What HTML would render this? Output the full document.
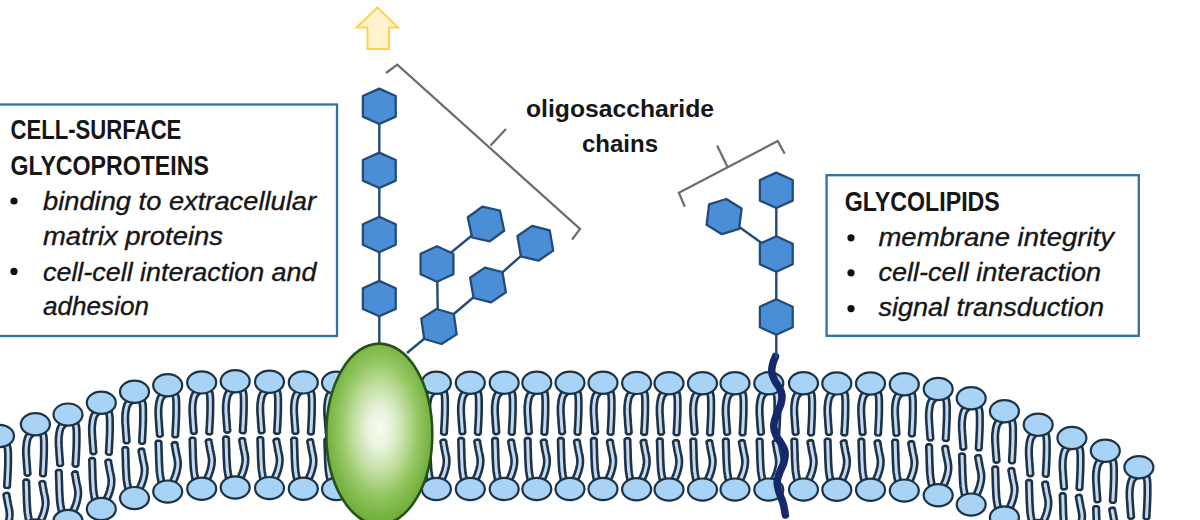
<!DOCTYPE html>
<html lang="en"><head><meta charset="utf-8"><title>Glycoproteins and glycolipids</title>
<style>html,body{margin:0;padding:0;background:#fff}body{width:1200px;height:520px;overflow:hidden}svg{display:block}text{font-family:"Liberation Sans",sans-serif;fill:#161616}.b{font-weight:bold}.i{font-style:italic;stroke:#161616;stroke-width:0.35px}</style></head><body>
<svg width="1200" height="520" viewBox="0 0 1200 520">
<defs><radialGradient id="pg" cx="50%" cy="47%" r="52%" fx="50%" fy="47%"><stop offset="0" stop-color="#f6fbf1"/><stop offset="0.2" stop-color="#e9f4de"/><stop offset="0.45" stop-color="#c5e0a6"/><stop offset="0.7" stop-color="#96c764"/><stop offset="0.9" stop-color="#7ab646"/><stop offset="1" stop-color="#6fae3b"/></radialGradient></defs>
<rect width="1200" height="520" fill="#fff"/>
<g id="bilayer">
<path d="M-4.9 442.0L-5.4 442.4L-6.2 443.1L-7.3 444.0L-8.4 445.2L-9.6 446.7L-10.5 448.4L-11.1 450.3L-11.6 452.3L-12.0 454.4L-12.2 456.5L-12.5 458.7L-12.6 460.9L-12.6 463.1L-12.6 465.4L-12.5 467.6L-12.3 469.9L-12.1 472.1L-12.0 474.2L-11.9 476.4L-11.7 478.7L-11.5 481.0L-11.3 483.1L-11.2 484.9L-11.1 486.2L-9.7 487.4L-6.7 487.2L-5.5 485.8L-5.6 484.5L-5.8 482.7L-5.9 480.6L-6.1 478.3L-6.3 476.0L-6.4 473.8L-6.6 471.7L-6.7 469.5L-6.9 467.3L-7.0 465.1L-7.0 463.1L-7.0 461.1L-6.9 459.2L-6.7 457.1L-6.4 455.2L-6.1 453.4L-5.7 451.8L-5.3 450.6L-4.8 449.7L-4.2 448.9L-3.4 448.1L-2.6 447.3L-1.7 446.6L-1.1 446.0L-1.0 444.2L-3.1 442.0ZM3.8 444.8L4.0 445.4L4.2 446.2L4.5 447.0L4.7 448.0L5.0 449.0L5.1 450.3L5.2 451.8L5.3 453.6L5.3 455.7L5.3 457.8L5.3 459.9L5.3 462.0L5.3 463.9L5.2 465.9L5.2 467.9L5.1 469.8L5.0 471.8L4.9 473.9L4.8 476.1L4.7 478.5L4.5 480.9L4.4 483.1L4.3 485.1L4.2 486.4L5.4 487.8L8.5 488.0L9.8 486.8L9.9 485.4L10.0 483.5L10.1 481.2L10.3 478.8L10.4 476.4L10.5 474.1L10.6 472.1L10.7 470.1L10.8 468.1L10.8 466.1L10.9 464.0L10.9 462.0L10.9 459.9L10.9 457.8L10.9 455.6L10.9 453.5L10.8 451.5L10.7 449.7L10.5 448.1L10.2 446.7L9.9 445.5L9.6 444.5L9.3 443.8L9.2 443.2L7.6 442.3L4.7 443.2ZM-12.5 492.8L-12.5 493.8L-12.4 495.2L-12.4 496.8L-12.3 498.7L-12.3 500.5L-12.2 502.4L-12.1 504.3L-12.1 506.3L-12.0 508.4L-12.0 510.5L-11.9 512.5L-11.8 514.4L-11.7 516.2L-11.6 517.9L-11.5 519.6L-11.4 521.3L-11.3 522.9L-11.1 524.7L-10.8 526.5L-10.5 528.5L-10.1 530.5L-9.8 532.2L-9.5 533.7L-9.2 534.8L-7.8 535.9L-4.7 535.3L-3.8 533.8L-4.0 532.7L-4.3 531.2L-4.6 529.4L-5.0 527.5L-5.3 525.6L-5.5 523.9L-5.7 522.4L-5.8 520.8L-5.9 519.3L-6.0 517.6L-6.1 515.9L-6.2 514.2L-6.3 512.3L-6.4 510.3L-6.4 508.2L-6.5 506.1L-6.5 504.1L-6.6 502.2L-6.7 500.4L-6.7 498.5L-6.8 496.7L-6.8 495.0L-6.9 493.6L-6.9 492.6L-8.2 491.4L-11.3 491.4ZM3.5 494.8L3.7 495.6L3.9 496.7L4.1 498.0L4.4 499.5L4.7 501.1L4.9 502.8L5.3 504.6L5.7 506.6L6.2 508.7L6.5 510.7L6.8 512.6L6.9 514.3L6.8 516.0L6.6 517.7L6.3 519.4L5.9 521.2L5.5 522.9L5.0 524.5L4.5 526.0L3.8 527.7L3.1 529.3L2.4 530.8L1.7 532.1L1.3 533.1L1.9 534.8L4.6 536.1L6.3 535.5L6.8 534.6L7.4 533.3L8.2 531.7L9.0 529.9L9.7 528.0L10.4 526.1L10.9 524.3L11.4 522.5L11.8 520.5L12.2 518.5L12.4 516.4L12.5 514.3L12.4 512.0L12.1 509.8L11.7 507.6L11.2 505.5L10.8 503.5L10.5 501.8L10.2 500.2L9.9 498.6L9.6 497.1L9.4 495.7L9.2 494.6L9.1 493.8L7.6 492.8L4.6 493.3Z" fill="#c2d9f0" stroke="#1c3347" stroke-width="2.6" stroke-linejoin="round"/><ellipse cx="-0.5" cy="436.0" rx="14.5" ry="11.1" fill="#a8d3f5" stroke="#1c3347" stroke-width="2.2"/><ellipse cx="-0.5" cy="542.3" rx="14.5" ry="11.1" fill="#a8d3f5" stroke="#1c3347" stroke-width="2.2"/>
<path d="M31.0 430.2L30.5 430.6L29.7 431.3L28.6 432.2L27.5 433.4L26.3 434.9L25.4 436.6L24.8 438.5L24.3 440.5L23.9 442.6L23.7 444.7L23.4 446.9L23.3 449.1L23.3 451.3L23.3 453.6L23.4 455.8L23.6 458.1L23.8 460.3L23.9 462.4L24.0 464.6L24.2 466.9L24.4 469.2L24.6 471.3L24.7 473.1L24.8 474.4L26.2 475.6L29.2 475.4L30.4 474.0L30.3 472.7L30.1 470.9L30.0 468.8L29.8 466.5L29.6 464.2L29.5 462.0L29.3 459.9L29.2 457.7L29.0 455.5L28.9 453.3L28.9 451.3L28.9 449.3L29.0 447.4L29.2 445.3L29.5 443.4L29.8 441.6L30.2 440.0L30.6 438.8L31.1 437.9L31.7 437.1L32.5 436.3L33.3 435.5L34.2 434.8L34.8 434.2L34.9 432.4L32.8 430.2ZM39.7 433.0L39.9 433.6L40.1 434.4L40.4 435.2L40.6 436.2L40.9 437.2L41.0 438.5L41.1 440.0L41.2 441.8L41.2 443.9L41.2 446.0L41.2 448.1L41.2 450.2L41.2 452.1L41.1 454.1L41.1 456.1L41.0 458.0L40.9 460.0L40.8 462.1L40.7 464.3L40.6 466.7L40.4 469.1L40.3 471.3L40.2 473.3L40.1 474.6L41.3 476.0L44.4 476.2L45.7 475.0L45.8 473.6L45.9 471.7L46.0 469.4L46.2 467.0L46.3 464.6L46.4 462.3L46.5 460.3L46.6 458.3L46.7 456.3L46.7 454.3L46.8 452.2L46.8 450.2L46.8 448.1L46.8 446.0L46.8 443.8L46.8 441.7L46.7 439.7L46.6 437.9L46.4 436.3L46.1 434.9L45.8 433.7L45.5 432.7L45.2 432.0L45.1 431.4L43.5 430.5L40.6 431.4ZM23.4 481.0L23.4 482.0L23.5 483.4L23.5 485.0L23.6 486.9L23.6 488.7L23.7 490.6L23.8 492.5L23.8 494.5L23.9 496.6L23.9 498.7L24.0 500.7L24.1 502.6L24.2 504.4L24.3 506.1L24.4 507.8L24.5 509.5L24.6 511.1L24.8 512.9L25.1 514.7L25.4 516.7L25.8 518.7L26.1 520.4L26.4 521.9L26.7 523.0L28.1 524.1L31.2 523.5L32.1 522.0L31.9 520.9L31.6 519.4L31.3 517.6L30.9 515.7L30.6 513.8L30.4 512.1L30.2 510.6L30.1 509.0L30.0 507.5L29.9 505.8L29.8 504.1L29.7 502.4L29.6 500.5L29.5 498.5L29.5 496.4L29.4 494.3L29.4 492.3L29.3 490.4L29.2 488.6L29.2 486.7L29.1 484.9L29.1 483.2L29.0 481.8L29.0 480.8L27.7 479.6L24.6 479.6ZM39.4 483.0L39.6 483.8L39.8 484.9L40.0 486.2L40.3 487.7L40.6 489.3L40.8 491.0L41.2 492.8L41.6 494.8L42.1 496.9L42.4 498.9L42.7 500.8L42.8 502.5L42.7 504.2L42.5 505.9L42.2 507.6L41.8 509.4L41.4 511.1L40.9 512.7L40.4 514.2L39.7 515.9L39.0 517.5L38.3 519.0L37.6 520.3L37.2 521.3L37.8 523.0L40.5 524.3L42.2 523.7L42.7 522.8L43.3 521.5L44.1 519.9L44.9 518.1L45.6 516.2L46.3 514.3L46.8 512.5L47.3 510.7L47.7 508.7L48.1 506.7L48.3 504.6L48.4 502.5L48.3 500.2L48.0 498.0L47.6 495.8L47.1 493.7L46.7 491.7L46.4 490.0L46.1 488.4L45.8 486.8L45.5 485.3L45.3 483.9L45.1 482.8L45.0 482.0L43.5 481.0L40.5 481.5Z" fill="#c2d9f0" stroke="#1c3347" stroke-width="2.6" stroke-linejoin="round"/><ellipse cx="35.4" cy="424.2" rx="14.5" ry="11.1" fill="#a8d3f5" stroke="#1c3347" stroke-width="2.2"/><ellipse cx="35.4" cy="530.5" rx="14.5" ry="11.1" fill="#a8d3f5" stroke="#1c3347" stroke-width="2.2"/>
<path d="M63.6 420.6L63.1 421.0L62.3 421.7L61.2 422.6L60.1 423.8L58.9 425.3L58.0 427.0L57.4 428.9L56.9 430.9L56.5 433.0L56.3 435.1L56.0 437.3L55.9 439.5L55.9 441.7L55.9 444.0L56.0 446.2L56.2 448.5L56.4 450.7L56.5 452.8L56.6 455.0L56.8 457.3L57.0 459.6L57.2 461.7L57.3 463.5L57.4 464.8L58.8 466.0L61.8 465.8L63.0 464.4L62.9 463.1L62.7 461.3L62.6 459.2L62.4 456.9L62.2 454.6L62.1 452.4L61.9 450.3L61.8 448.1L61.6 445.9L61.5 443.7L61.5 441.7L61.5 439.7L61.6 437.8L61.8 435.7L62.1 433.8L62.4 432.0L62.8 430.4L63.2 429.2L63.7 428.3L64.3 427.5L65.1 426.7L65.9 425.9L66.8 425.2L67.4 424.6L67.5 422.8L65.4 420.6ZM72.3 423.4L72.5 424.0L72.7 424.8L73.0 425.6L73.2 426.6L73.5 427.6L73.6 428.9L73.7 430.4L73.8 432.2L73.8 434.3L73.8 436.4L73.8 438.5L73.8 440.6L73.8 442.5L73.7 444.5L73.7 446.5L73.6 448.4L73.5 450.4L73.4 452.5L73.3 454.7L73.2 457.1L73.0 459.5L72.9 461.7L72.8 463.7L72.7 465.0L73.9 466.4L77.0 466.6L78.3 465.4L78.4 464.0L78.5 462.1L78.6 459.8L78.8 457.4L78.9 455.0L79.0 452.7L79.1 450.7L79.2 448.7L79.3 446.7L79.3 444.7L79.4 442.6L79.4 440.6L79.4 438.5L79.4 436.4L79.4 434.2L79.4 432.1L79.3 430.1L79.2 428.3L79.0 426.7L78.7 425.3L78.4 424.1L78.1 423.1L77.8 422.4L77.7 421.8L76.1 420.9L73.2 421.8ZM56.0 471.4L56.0 472.4L56.1 473.8L56.1 475.4L56.2 477.3L56.2 479.1L56.3 481.0L56.4 482.9L56.4 484.9L56.5 487.0L56.5 489.1L56.6 491.1L56.7 493.0L56.8 494.8L56.9 496.5L57.0 498.2L57.1 499.9L57.2 501.5L57.4 503.3L57.7 505.1L58.0 507.1L58.4 509.1L58.7 510.8L59.0 512.3L59.3 513.4L60.7 514.5L63.8 513.9L64.7 512.4L64.5 511.3L64.2 509.8L63.9 508.0L63.5 506.1L63.2 504.2L63.0 502.5L62.8 501.0L62.7 499.4L62.6 497.9L62.5 496.2L62.4 494.5L62.3 492.8L62.2 490.9L62.1 488.9L62.1 486.8L62.0 484.7L62.0 482.7L61.9 480.8L61.8 479.0L61.8 477.1L61.7 475.3L61.7 473.6L61.6 472.2L61.6 471.2L60.3 470.0L57.2 470.0ZM72.0 473.4L72.2 474.2L72.4 475.3L72.6 476.6L72.9 478.1L73.2 479.7L73.4 481.4L73.8 483.2L74.2 485.2L74.7 487.3L75.0 489.3L75.3 491.2L75.4 492.9L75.3 494.6L75.1 496.3L74.8 498.0L74.4 499.8L74.0 501.5L73.5 503.1L73.0 504.6L72.3 506.3L71.6 507.9L70.9 509.4L70.2 510.7L69.8 511.7L70.4 513.4L73.1 514.7L74.8 514.1L75.3 513.2L75.9 511.9L76.7 510.3L77.5 508.5L78.2 506.6L78.9 504.7L79.4 502.9L79.9 501.1L80.3 499.1L80.7 497.1L80.9 495.0L81.0 492.9L80.9 490.6L80.6 488.4L80.2 486.2L79.7 484.1L79.3 482.1L79.0 480.4L78.7 478.8L78.4 477.2L78.1 475.7L77.9 474.3L77.7 473.2L77.6 472.4L76.1 471.4L73.1 471.9Z" fill="#c2d9f0" stroke="#1c3347" stroke-width="2.6" stroke-linejoin="round"/><ellipse cx="68.0" cy="414.6" rx="14.5" ry="11.1" fill="#a8d3f5" stroke="#1c3347" stroke-width="2.2"/><ellipse cx="68.0" cy="520.9" rx="14.5" ry="11.1" fill="#a8d3f5" stroke="#1c3347" stroke-width="2.2"/>
<path d="M96.9 408.7L96.4 409.1L95.6 409.8L94.5 410.7L93.4 411.9L92.2 413.4L91.3 415.1L90.7 417.0L90.2 419.0L89.8 421.1L89.6 423.2L89.3 425.4L89.2 427.6L89.2 429.8L89.2 432.1L89.3 434.3L89.5 436.6L89.7 438.8L89.8 440.9L89.9 443.1L90.1 445.4L90.3 447.7L90.5 449.8L90.6 451.6L90.7 452.9L92.1 454.1L95.1 453.9L96.3 452.5L96.2 451.2L96.0 449.4L95.9 447.3L95.7 445.0L95.5 442.7L95.4 440.5L95.2 438.4L95.1 436.2L94.9 434.0L94.8 431.8L94.8 429.8L94.8 427.8L94.9 425.9L95.1 423.8L95.4 421.9L95.7 420.1L96.1 418.5L96.5 417.3L97.0 416.4L97.6 415.6L98.4 414.8L99.2 414.0L100.1 413.3L100.7 412.7L100.8 410.9L98.7 408.7ZM105.6 411.5L105.8 412.1L106.0 412.9L106.3 413.7L106.5 414.7L106.8 415.7L106.9 417.0L107.0 418.5L107.1 420.3L107.1 422.4L107.1 424.5L107.1 426.6L107.1 428.7L107.1 430.6L107.0 432.6L107.0 434.6L106.9 436.5L106.8 438.5L106.7 440.6L106.6 442.8L106.5 445.2L106.3 447.6L106.2 449.8L106.1 451.8L106.0 453.1L107.2 454.5L110.3 454.7L111.6 453.5L111.7 452.1L111.8 450.2L111.9 447.9L112.1 445.5L112.2 443.1L112.3 440.8L112.4 438.8L112.5 436.8L112.6 434.8L112.6 432.8L112.7 430.7L112.7 428.7L112.7 426.6L112.7 424.5L112.7 422.3L112.7 420.2L112.6 418.2L112.5 416.4L112.3 414.8L112.0 413.4L111.7 412.2L111.4 411.2L111.1 410.5L111.0 409.9L109.4 409.0L106.5 409.9ZM89.3 459.5L89.3 460.5L89.4 461.9L89.4 463.5L89.5 465.4L89.5 467.2L89.6 469.1L89.7 471.0L89.7 473.0L89.8 475.1L89.8 477.2L89.9 479.2L90.0 481.1L90.1 482.9L90.2 484.6L90.3 486.3L90.4 488.0L90.5 489.6L90.7 491.4L91.0 493.2L91.3 495.2L91.7 497.2L92.0 498.9L92.3 500.4L92.6 501.5L94.0 502.6L97.1 502.0L98.0 500.5L97.8 499.4L97.5 497.9L97.2 496.1L96.8 494.2L96.5 492.3L96.3 490.6L96.1 489.1L96.0 487.5L95.9 486.0L95.8 484.3L95.7 482.6L95.6 480.9L95.5 479.0L95.4 477.0L95.4 474.9L95.3 472.8L95.3 470.8L95.2 468.9L95.1 467.1L95.1 465.2L95.0 463.4L95.0 461.7L94.9 460.3L94.9 459.3L93.6 458.1L90.5 458.1ZM105.3 461.5L105.5 462.3L105.7 463.4L105.9 464.7L106.2 466.2L106.5 467.8L106.7 469.5L107.1 471.3L107.5 473.3L108.0 475.4L108.3 477.4L108.6 479.3L108.7 481.0L108.6 482.7L108.4 484.4L108.1 486.1L107.7 487.9L107.3 489.6L106.8 491.2L106.3 492.7L105.6 494.4L104.9 496.0L104.2 497.5L103.5 498.8L103.1 499.8L103.7 501.5L106.4 502.8L108.1 502.2L108.6 501.3L109.2 500.0L110.0 498.4L110.8 496.6L111.5 494.7L112.2 492.8L112.7 491.0L113.2 489.2L113.6 487.2L114.0 485.2L114.2 483.1L114.3 481.0L114.2 478.7L113.9 476.5L113.5 474.3L113.0 472.2L112.6 470.2L112.3 468.5L112.0 466.9L111.7 465.3L111.4 463.8L111.2 462.4L111.0 461.3L110.9 460.5L109.4 459.5L106.4 460.0Z" fill="#c2d9f0" stroke="#1c3347" stroke-width="2.6" stroke-linejoin="round"/><ellipse cx="101.3" cy="402.7" rx="14.5" ry="11.1" fill="#a8d3f5" stroke="#1c3347" stroke-width="2.2"/><ellipse cx="101.3" cy="509.0" rx="14.5" ry="11.1" fill="#a8d3f5" stroke="#1c3347" stroke-width="2.2"/>
<path d="M130.1 397.8L129.6 398.2L128.8 398.9L127.7 399.8L126.6 401.0L125.4 402.5L124.5 404.2L123.9 406.1L123.4 408.1L123.0 410.2L122.8 412.3L122.5 414.5L122.4 416.7L122.4 418.9L122.4 421.2L122.5 423.4L122.7 425.7L122.9 427.9L123.0 430.0L123.1 432.2L123.3 434.5L123.5 436.8L123.7 438.9L123.8 440.7L123.9 442.0L125.3 443.2L128.3 443.0L129.5 441.6L129.4 440.3L129.2 438.5L129.1 436.4L128.9 434.1L128.7 431.8L128.6 429.6L128.4 427.5L128.3 425.3L128.1 423.1L128.0 420.9L128.0 418.9L128.0 416.9L128.1 415.0L128.3 412.9L128.6 411.0L128.9 409.2L129.3 407.6L129.7 406.4L130.2 405.5L130.8 404.7L131.6 403.9L132.4 403.1L133.3 402.4L133.9 401.8L134.0 400.0L131.9 397.8ZM138.8 400.6L139.0 401.2L139.2 402.0L139.5 402.8L139.7 403.8L140.0 404.8L140.1 406.1L140.2 407.6L140.3 409.4L140.3 411.5L140.3 413.6L140.3 415.7L140.3 417.8L140.3 419.7L140.2 421.7L140.2 423.7L140.1 425.6L140.0 427.6L139.9 429.7L139.8 431.9L139.7 434.3L139.5 436.7L139.4 438.9L139.3 440.9L139.2 442.2L140.4 443.6L143.5 443.8L144.8 442.6L144.9 441.2L145.0 439.3L145.1 437.0L145.3 434.6L145.4 432.2L145.5 429.9L145.6 427.9L145.7 425.9L145.8 423.9L145.8 421.9L145.9 419.8L145.9 417.8L145.9 415.7L145.9 413.6L145.9 411.4L145.9 409.3L145.8 407.3L145.7 405.5L145.5 403.9L145.2 402.5L144.9 401.3L144.6 400.3L144.3 399.6L144.2 399.0L142.6 398.1L139.7 399.0ZM122.5 448.6L122.5 449.6L122.6 451.0L122.6 452.6L122.7 454.5L122.7 456.3L122.8 458.2L122.9 460.1L122.9 462.1L123.0 464.2L123.0 466.3L123.1 468.3L123.2 470.2L123.3 472.0L123.4 473.7L123.5 475.4L123.6 477.1L123.7 478.7L123.9 480.5L124.2 482.3L124.5 484.3L124.9 486.3L125.2 488.0L125.5 489.5L125.8 490.6L127.2 491.7L130.3 491.1L131.2 489.6L131.0 488.5L130.7 487.0L130.4 485.2L130.0 483.3L129.7 481.4L129.5 479.7L129.3 478.2L129.2 476.6L129.1 475.1L129.0 473.4L128.9 471.7L128.8 470.0L128.7 468.1L128.6 466.1L128.6 464.0L128.5 461.9L128.5 459.9L128.4 458.0L128.3 456.2L128.3 454.3L128.2 452.5L128.2 450.8L128.1 449.4L128.1 448.4L126.8 447.2L123.7 447.2ZM138.5 450.6L138.7 451.4L138.9 452.5L139.1 453.8L139.4 455.3L139.7 456.9L139.9 458.6L140.3 460.4L140.7 462.4L141.2 464.5L141.5 466.5L141.8 468.4L141.9 470.1L141.8 471.8L141.6 473.5L141.3 475.2L140.9 477.0L140.5 478.7L140.0 480.3L139.5 481.8L138.8 483.5L138.1 485.1L137.4 486.6L136.7 487.9L136.3 488.9L136.9 490.6L139.6 491.9L141.3 491.3L141.8 490.4L142.4 489.1L143.2 487.5L144.0 485.7L144.7 483.8L145.4 481.9L145.9 480.1L146.4 478.3L146.8 476.3L147.2 474.3L147.4 472.2L147.5 470.1L147.4 467.8L147.1 465.6L146.7 463.4L146.2 461.3L145.8 459.3L145.5 457.6L145.2 456.0L144.9 454.4L144.6 452.9L144.4 451.5L144.2 450.4L144.1 449.6L142.6 448.6L139.6 449.1Z" fill="#c2d9f0" stroke="#1c3347" stroke-width="2.6" stroke-linejoin="round"/><ellipse cx="134.5" cy="391.8" rx="14.5" ry="11.1" fill="#a8d3f5" stroke="#1c3347" stroke-width="2.2"/><ellipse cx="134.5" cy="498.1" rx="14.5" ry="11.1" fill="#a8d3f5" stroke="#1c3347" stroke-width="2.2"/>
<path d="M163.3 391.3L162.8 391.7L162.0 392.4L160.9 393.3L159.8 394.5L158.6 396.0L157.7 397.7L157.1 399.6L156.6 401.6L156.2 403.7L156.0 405.8L155.7 408.0L155.6 410.2L155.6 412.4L155.6 414.7L155.7 416.9L155.9 419.2L156.1 421.4L156.2 423.5L156.3 425.7L156.5 428.0L156.7 430.3L156.9 432.4L157.0 434.2L157.1 435.5L158.5 436.7L161.5 436.5L162.7 435.1L162.6 433.8L162.4 432.0L162.3 429.9L162.1 427.6L161.9 425.3L161.8 423.1L161.6 421.0L161.5 418.8L161.3 416.6L161.2 414.4L161.2 412.4L161.2 410.4L161.3 408.5L161.5 406.4L161.8 404.5L162.1 402.7L162.5 401.1L162.9 399.9L163.4 399.0L164.0 398.2L164.8 397.4L165.6 396.6L166.5 395.9L167.1 395.3L167.2 393.5L165.1 391.3ZM172.0 394.1L172.2 394.7L172.4 395.5L172.7 396.3L172.9 397.3L173.2 398.3L173.3 399.6L173.4 401.1L173.5 402.9L173.5 405.0L173.5 407.1L173.5 409.2L173.5 411.3L173.5 413.2L173.4 415.2L173.4 417.2L173.3 419.1L173.2 421.1L173.1 423.2L173.0 425.4L172.9 427.8L172.7 430.2L172.6 432.4L172.5 434.4L172.4 435.7L173.6 437.1L176.7 437.3L178.0 436.1L178.1 434.7L178.2 432.8L178.3 430.5L178.5 428.1L178.6 425.7L178.7 423.4L178.8 421.4L178.9 419.4L179.0 417.4L179.0 415.4L179.1 413.3L179.1 411.3L179.1 409.2L179.1 407.1L179.1 404.9L179.1 402.8L179.0 400.8L178.9 399.0L178.7 397.4L178.4 396.0L178.1 394.8L177.8 393.8L177.5 393.1L177.4 392.5L175.8 391.6L172.9 392.5ZM155.7 442.1L155.7 443.1L155.8 444.5L155.8 446.1L155.9 448.0L155.9 449.8L156.0 451.7L156.1 453.6L156.1 455.6L156.2 457.7L156.2 459.8L156.3 461.8L156.4 463.7L156.5 465.5L156.6 467.2L156.7 468.9L156.8 470.6L156.9 472.2L157.1 474.0L157.4 475.8L157.7 477.8L158.1 479.8L158.4 481.5L158.7 483.0L159.0 484.1L160.4 485.2L163.5 484.6L164.4 483.1L164.2 482.0L163.9 480.5L163.6 478.7L163.2 476.8L162.9 474.9L162.7 473.2L162.5 471.7L162.4 470.1L162.3 468.6L162.2 466.9L162.1 465.2L162.0 463.5L161.9 461.6L161.8 459.6L161.8 457.5L161.7 455.4L161.7 453.4L161.6 451.5L161.5 449.7L161.5 447.8L161.4 446.0L161.4 444.3L161.3 442.9L161.3 441.9L160.0 440.7L156.9 440.7ZM171.7 444.1L171.9 444.9L172.1 446.0L172.3 447.3L172.6 448.8L172.9 450.4L173.1 452.1L173.5 453.9L173.9 455.9L174.4 458.0L174.7 460.0L175.0 461.9L175.1 463.6L175.0 465.3L174.8 467.0L174.5 468.7L174.1 470.5L173.7 472.2L173.2 473.8L172.7 475.3L172.0 477.0L171.3 478.6L170.6 480.1L169.9 481.4L169.5 482.4L170.1 484.1L172.8 485.4L174.5 484.8L175.0 483.9L175.6 482.6L176.4 481.0L177.2 479.2L177.9 477.3L178.6 475.4L179.1 473.6L179.6 471.8L180.0 469.8L180.4 467.8L180.6 465.7L180.7 463.6L180.6 461.3L180.3 459.1L179.9 456.9L179.4 454.8L179.0 452.8L178.7 451.1L178.4 449.5L178.1 447.9L177.8 446.4L177.6 445.0L177.4 443.9L177.3 443.1L175.8 442.1L172.8 442.6Z" fill="#c2d9f0" stroke="#1c3347" stroke-width="2.6" stroke-linejoin="round"/><ellipse cx="167.7" cy="385.3" rx="14.5" ry="11.1" fill="#a8d3f5" stroke="#1c3347" stroke-width="2.2"/><ellipse cx="167.7" cy="491.6" rx="14.5" ry="11.1" fill="#a8d3f5" stroke="#1c3347" stroke-width="2.2"/>
<path d="M197.3 388.4L196.8 388.8L196.0 389.5L194.9 390.4L193.8 391.6L192.6 393.1L191.7 394.8L191.1 396.7L190.6 398.7L190.2 400.8L190.0 402.9L189.7 405.1L189.6 407.3L189.6 409.5L189.6 411.8L189.7 414.0L189.9 416.3L190.1 418.5L190.2 420.6L190.3 422.8L190.5 425.1L190.7 427.4L190.9 429.5L191.0 431.3L191.1 432.6L192.5 433.8L195.5 433.6L196.7 432.2L196.6 430.9L196.4 429.1L196.3 427.0L196.1 424.7L195.9 422.4L195.8 420.2L195.6 418.1L195.5 415.9L195.3 413.7L195.2 411.5L195.2 409.5L195.2 407.5L195.3 405.6L195.5 403.5L195.8 401.6L196.1 399.8L196.5 398.2L196.9 397.0L197.4 396.1L198.0 395.3L198.8 394.5L199.6 393.7L200.5 393.0L201.1 392.4L201.2 390.6L199.1 388.4ZM206.0 391.2L206.2 391.8L206.4 392.6L206.7 393.4L206.9 394.4L207.2 395.4L207.3 396.7L207.4 398.2L207.5 400.0L207.5 402.1L207.5 404.2L207.5 406.3L207.5 408.4L207.5 410.3L207.4 412.3L207.4 414.3L207.3 416.2L207.2 418.2L207.1 420.3L207.0 422.5L206.9 424.9L206.7 427.3L206.6 429.5L206.5 431.5L206.4 432.8L207.6 434.2L210.7 434.4L212.0 433.2L212.1 431.8L212.2 429.9L212.3 427.6L212.5 425.2L212.6 422.8L212.7 420.5L212.8 418.5L212.9 416.5L213.0 414.5L213.0 412.5L213.1 410.4L213.1 408.4L213.1 406.3L213.1 404.2L213.1 402.0L213.1 399.9L213.0 397.9L212.9 396.1L212.7 394.5L212.4 393.1L212.1 391.9L211.8 390.9L211.5 390.2L211.4 389.6L209.8 388.7L206.9 389.6ZM189.7 439.2L189.7 440.2L189.8 441.6L189.8 443.2L189.9 445.1L189.9 446.9L190.0 448.8L190.1 450.7L190.1 452.7L190.2 454.8L190.2 456.9L190.3 458.9L190.4 460.8L190.5 462.6L190.6 464.3L190.7 466.0L190.8 467.7L190.9 469.3L191.1 471.1L191.4 472.9L191.7 474.9L192.1 476.9L192.4 478.6L192.7 480.1L193.0 481.2L194.4 482.3L197.5 481.7L198.4 480.2L198.2 479.1L197.9 477.6L197.6 475.8L197.2 473.9L196.9 472.0L196.7 470.3L196.5 468.8L196.4 467.2L196.3 465.7L196.2 464.0L196.1 462.3L196.0 460.6L195.9 458.7L195.8 456.7L195.8 454.6L195.7 452.5L195.7 450.5L195.6 448.6L195.5 446.8L195.5 444.9L195.4 443.1L195.4 441.4L195.3 440.0L195.3 439.0L194.0 437.8L190.9 437.8ZM205.7 441.2L205.9 442.0L206.1 443.1L206.3 444.4L206.6 445.9L206.9 447.5L207.1 449.2L207.5 451.0L207.9 453.0L208.4 455.1L208.7 457.1L209.0 459.0L209.1 460.7L209.0 462.4L208.8 464.1L208.5 465.8L208.1 467.6L207.7 469.3L207.2 470.9L206.7 472.4L206.0 474.1L205.3 475.7L204.6 477.2L203.9 478.5L203.5 479.5L204.1 481.2L206.8 482.5L208.5 481.9L209.0 481.0L209.6 479.7L210.4 478.1L211.2 476.3L211.9 474.4L212.6 472.5L213.1 470.7L213.6 468.9L214.0 466.9L214.4 464.9L214.6 462.8L214.7 460.7L214.6 458.4L214.3 456.2L213.9 454.0L213.4 451.9L213.0 449.9L212.7 448.2L212.4 446.6L212.1 445.0L211.8 443.5L211.6 442.1L211.4 441.0L211.3 440.2L209.8 439.2L206.8 439.7Z" fill="#c2d9f0" stroke="#1c3347" stroke-width="2.6" stroke-linejoin="round"/><ellipse cx="201.7" cy="382.4" rx="14.5" ry="11.1" fill="#a8d3f5" stroke="#1c3347" stroke-width="2.2"/><ellipse cx="201.7" cy="488.7" rx="14.5" ry="11.1" fill="#a8d3f5" stroke="#1c3347" stroke-width="2.2"/>
<path d="M230.8 387.2L230.3 387.6L229.5 388.3L228.4 389.2L227.3 390.4L226.1 391.9L225.2 393.6L224.6 395.5L224.1 397.5L223.7 399.6L223.5 401.7L223.2 403.9L223.1 406.1L223.1 408.3L223.1 410.6L223.2 412.8L223.4 415.1L223.6 417.3L223.7 419.4L223.8 421.6L224.0 423.9L224.2 426.2L224.4 428.3L224.5 430.1L224.6 431.4L226.0 432.6L229.0 432.4L230.2 431.0L230.1 429.7L229.9 427.9L229.8 425.8L229.6 423.5L229.4 421.2L229.3 419.0L229.1 416.9L229.0 414.7L228.8 412.5L228.7 410.3L228.7 408.3L228.7 406.3L228.8 404.4L229.0 402.3L229.3 400.4L229.6 398.6L230.0 397.0L230.4 395.8L230.9 394.9L231.5 394.1L232.3 393.3L233.1 392.5L234.0 391.8L234.6 391.2L234.7 389.4L232.6 387.2ZM239.5 390.0L239.7 390.6L239.9 391.4L240.2 392.2L240.4 393.2L240.7 394.2L240.8 395.5L240.9 397.0L241.0 398.8L241.0 400.9L241.0 403.0L241.0 405.1L241.0 407.2L241.0 409.1L240.9 411.1L240.9 413.1L240.8 415.0L240.7 417.0L240.6 419.1L240.5 421.3L240.4 423.7L240.2 426.1L240.1 428.3L240.0 430.3L239.9 431.6L241.1 433.0L244.2 433.2L245.5 432.0L245.6 430.6L245.7 428.7L245.8 426.4L246.0 424.0L246.1 421.6L246.2 419.3L246.3 417.3L246.4 415.3L246.5 413.3L246.5 411.3L246.6 409.2L246.6 407.2L246.6 405.1L246.6 403.0L246.6 400.8L246.6 398.7L246.5 396.7L246.4 394.9L246.2 393.3L245.9 391.9L245.6 390.7L245.3 389.7L245.0 389.0L244.9 388.4L243.3 387.5L240.4 388.4ZM223.2 438.0L223.2 439.0L223.3 440.4L223.3 442.0L223.4 443.9L223.4 445.7L223.5 447.6L223.6 449.5L223.6 451.5L223.7 453.6L223.7 455.7L223.8 457.7L223.9 459.6L224.0 461.4L224.1 463.1L224.2 464.8L224.3 466.5L224.4 468.1L224.6 469.9L224.9 471.7L225.2 473.7L225.6 475.7L225.9 477.4L226.2 478.9L226.5 480.0L227.9 481.1L231.0 480.5L231.9 479.0L231.7 477.9L231.4 476.4L231.1 474.6L230.7 472.7L230.4 470.8L230.2 469.1L230.0 467.6L229.9 466.0L229.8 464.5L229.7 462.8L229.6 461.1L229.5 459.4L229.4 457.5L229.3 455.5L229.3 453.4L229.2 451.3L229.2 449.3L229.1 447.4L229.0 445.6L229.0 443.7L228.9 441.9L228.9 440.2L228.8 438.8L228.8 437.8L227.5 436.6L224.4 436.6ZM239.2 440.0L239.4 440.8L239.6 441.9L239.8 443.2L240.1 444.7L240.4 446.3L240.6 448.0L241.0 449.8L241.4 451.8L241.9 453.9L242.2 455.9L242.5 457.8L242.6 459.5L242.5 461.2L242.3 462.9L242.0 464.6L241.6 466.4L241.2 468.1L240.7 469.7L240.2 471.2L239.5 472.9L238.8 474.5L238.1 476.0L237.4 477.3L237.0 478.3L237.6 480.0L240.3 481.3L242.0 480.7L242.5 479.8L243.1 478.5L243.9 476.9L244.7 475.1L245.4 473.2L246.1 471.3L246.6 469.5L247.1 467.7L247.5 465.7L247.9 463.7L248.1 461.6L248.2 459.5L248.1 457.2L247.8 455.0L247.4 452.8L246.9 450.7L246.5 448.7L246.2 447.0L245.9 445.4L245.6 443.8L245.3 442.3L245.1 440.9L244.9 439.8L244.8 439.0L243.3 438.0L240.3 438.5Z" fill="#c2d9f0" stroke="#1c3347" stroke-width="2.6" stroke-linejoin="round"/><ellipse cx="235.2" cy="381.2" rx="14.5" ry="11.1" fill="#a8d3f5" stroke="#1c3347" stroke-width="2.2"/><ellipse cx="235.2" cy="487.5" rx="14.5" ry="11.1" fill="#a8d3f5" stroke="#1c3347" stroke-width="2.2"/>
<path d="M265.1 387.8L264.6 388.2L263.8 388.9L262.7 389.8L261.6 391.0L260.4 392.5L259.5 394.2L258.9 396.1L258.4 398.1L258.0 400.2L257.8 402.3L257.5 404.5L257.4 406.7L257.4 408.9L257.4 411.2L257.5 413.4L257.7 415.7L257.9 417.9L258.0 420.0L258.1 422.2L258.3 424.5L258.5 426.8L258.7 428.9L258.8 430.7L258.9 432.0L260.3 433.2L263.3 433.0L264.5 431.6L264.4 430.3L264.2 428.5L264.1 426.4L263.9 424.1L263.7 421.8L263.6 419.6L263.4 417.5L263.3 415.3L263.1 413.1L263.0 410.9L263.0 408.9L263.0 406.9L263.1 405.0L263.3 402.9L263.6 401.0L263.9 399.2L264.3 397.6L264.7 396.4L265.2 395.5L265.8 394.7L266.6 393.9L267.4 393.1L268.3 392.4L268.9 391.8L269.0 390.0L266.9 387.8ZM273.8 390.6L274.0 391.2L274.2 392.0L274.5 392.8L274.7 393.8L275.0 394.8L275.1 396.1L275.2 397.6L275.3 399.4L275.3 401.5L275.3 403.6L275.3 405.7L275.3 407.8L275.3 409.7L275.2 411.7L275.2 413.7L275.1 415.6L275.0 417.6L274.9 419.7L274.8 421.9L274.7 424.3L274.5 426.7L274.4 428.9L274.3 430.9L274.2 432.2L275.4 433.6L278.5 433.8L279.8 432.6L279.9 431.2L280.0 429.3L280.1 427.0L280.3 424.6L280.4 422.2L280.5 419.9L280.6 417.9L280.7 415.9L280.8 413.9L280.8 411.9L280.9 409.8L280.9 407.8L280.9 405.7L280.9 403.6L280.9 401.4L280.9 399.3L280.8 397.3L280.7 395.5L280.5 393.9L280.2 392.5L279.9 391.3L279.6 390.3L279.3 389.6L279.2 389.0L277.6 388.1L274.7 389.0ZM257.5 438.6L257.5 439.6L257.6 441.0L257.6 442.6L257.7 444.5L257.7 446.3L257.8 448.2L257.9 450.1L257.9 452.1L258.0 454.2L258.0 456.3L258.1 458.3L258.2 460.2L258.3 462.0L258.4 463.7L258.5 465.4L258.6 467.1L258.7 468.7L258.9 470.5L259.2 472.3L259.5 474.3L259.9 476.3L260.2 478.0L260.5 479.5L260.8 480.6L262.2 481.7L265.3 481.1L266.2 479.6L266.0 478.5L265.7 477.0L265.4 475.2L265.0 473.3L264.7 471.4L264.5 469.7L264.3 468.2L264.2 466.6L264.1 465.1L264.0 463.4L263.9 461.7L263.8 460.0L263.7 458.1L263.6 456.1L263.6 454.0L263.5 451.9L263.5 449.9L263.4 448.0L263.3 446.2L263.3 444.3L263.2 442.5L263.2 440.8L263.1 439.4L263.1 438.4L261.8 437.2L258.7 437.2ZM273.5 440.6L273.7 441.4L273.9 442.5L274.1 443.8L274.4 445.3L274.7 446.9L274.9 448.6L275.3 450.4L275.7 452.4L276.2 454.5L276.5 456.5L276.8 458.4L276.9 460.1L276.8 461.8L276.6 463.5L276.3 465.2L275.9 467.0L275.5 468.7L275.0 470.3L274.5 471.8L273.8 473.5L273.1 475.1L272.4 476.6L271.7 477.9L271.3 478.9L271.9 480.6L274.6 481.9L276.3 481.3L276.8 480.4L277.4 479.1L278.2 477.5L279.0 475.7L279.7 473.8L280.4 471.9L280.9 470.1L281.4 468.3L281.8 466.3L282.2 464.3L282.4 462.2L282.5 460.1L282.4 457.8L282.1 455.6L281.7 453.4L281.2 451.3L280.8 449.3L280.5 447.6L280.2 446.0L279.9 444.4L279.6 442.9L279.4 441.5L279.2 440.4L279.1 439.6L277.6 438.6L274.6 439.1Z" fill="#c2d9f0" stroke="#1c3347" stroke-width="2.6" stroke-linejoin="round"/><ellipse cx="269.5" cy="381.8" rx="14.5" ry="11.1" fill="#a8d3f5" stroke="#1c3347" stroke-width="2.2"/><ellipse cx="269.5" cy="488.1" rx="14.5" ry="11.1" fill="#a8d3f5" stroke="#1c3347" stroke-width="2.2"/>
<path d="M298.9 388.4L298.4 388.8L297.6 389.5L296.5 390.4L295.4 391.6L294.2 393.1L293.3 394.8L292.7 396.7L292.2 398.7L291.8 400.8L291.6 402.9L291.3 405.1L291.2 407.3L291.2 409.5L291.2 411.8L291.3 414.0L291.5 416.3L291.7 418.5L291.8 420.6L291.9 422.8L292.1 425.1L292.3 427.4L292.5 429.5L292.6 431.3L292.7 432.6L294.1 433.8L297.1 433.6L298.3 432.2L298.2 430.9L298.0 429.1L297.9 427.0L297.7 424.7L297.5 422.4L297.4 420.2L297.2 418.1L297.1 415.9L296.9 413.7L296.8 411.5L296.8 409.5L296.8 407.5L296.9 405.6L297.1 403.5L297.4 401.6L297.7 399.8L298.1 398.2L298.5 397.0L299.0 396.1L299.6 395.3L300.4 394.5L301.2 393.7L302.1 393.0L302.7 392.4L302.8 390.6L300.7 388.4ZM307.6 391.2L307.8 391.8L308.0 392.6L308.3 393.4L308.5 394.4L308.8 395.4L308.9 396.7L309.0 398.2L309.1 400.0L309.1 402.1L309.1 404.2L309.1 406.3L309.1 408.4L309.1 410.3L309.0 412.3L309.0 414.3L308.9 416.2L308.8 418.2L308.7 420.3L308.6 422.5L308.5 424.9L308.3 427.3L308.2 429.5L308.1 431.5L308.0 432.8L309.2 434.2L312.3 434.4L313.6 433.2L313.7 431.8L313.8 429.9L313.9 427.6L314.1 425.2L314.2 422.8L314.3 420.5L314.4 418.5L314.5 416.5L314.6 414.5L314.6 412.5L314.7 410.4L314.7 408.4L314.7 406.3L314.7 404.2L314.7 402.0L314.7 399.9L314.6 397.9L314.5 396.1L314.3 394.5L314.0 393.1L313.7 391.9L313.4 390.9L313.1 390.2L313.0 389.6L311.4 388.7L308.5 389.6ZM291.3 439.2L291.3 440.2L291.4 441.6L291.4 443.2L291.5 445.1L291.5 446.9L291.6 448.8L291.7 450.7L291.7 452.7L291.8 454.8L291.8 456.9L291.9 458.9L292.0 460.8L292.1 462.6L292.2 464.3L292.3 466.0L292.4 467.7L292.5 469.3L292.7 471.1L293.0 472.9L293.3 474.9L293.7 476.9L294.0 478.6L294.3 480.1L294.6 481.2L296.0 482.3L299.1 481.7L300.0 480.2L299.8 479.1L299.5 477.6L299.2 475.8L298.8 473.9L298.5 472.0L298.3 470.3L298.1 468.8L298.0 467.2L297.9 465.7L297.8 464.0L297.7 462.3L297.6 460.6L297.5 458.7L297.4 456.7L297.4 454.6L297.3 452.5L297.3 450.5L297.2 448.6L297.1 446.8L297.1 444.9L297.0 443.1L297.0 441.4L296.9 440.0L296.9 439.0L295.6 437.8L292.5 437.8ZM307.3 441.2L307.5 442.0L307.7 443.1L307.9 444.4L308.2 445.9L308.5 447.5L308.7 449.2L309.1 451.0L309.5 453.0L310.0 455.1L310.3 457.1L310.6 459.0L310.7 460.7L310.6 462.4L310.4 464.1L310.1 465.8L309.7 467.6L309.3 469.3L308.8 470.9L308.3 472.4L307.6 474.1L306.9 475.7L306.2 477.2L305.5 478.5L305.1 479.5L305.7 481.2L308.4 482.5L310.1 481.9L310.6 481.0L311.2 479.7L312.0 478.1L312.8 476.3L313.5 474.4L314.2 472.5L314.7 470.7L315.2 468.9L315.6 466.9L316.0 464.9L316.2 462.8L316.3 460.7L316.2 458.4L315.9 456.2L315.5 454.0L315.0 451.9L314.6 449.9L314.3 448.2L314.0 446.6L313.7 445.0L313.4 443.5L313.2 442.1L313.0 441.0L312.9 440.2L311.4 439.2L308.4 439.7Z" fill="#c2d9f0" stroke="#1c3347" stroke-width="2.6" stroke-linejoin="round"/><ellipse cx="303.3" cy="382.4" rx="14.5" ry="11.1" fill="#a8d3f5" stroke="#1c3347" stroke-width="2.2"/><ellipse cx="303.3" cy="488.7" rx="14.5" ry="11.1" fill="#a8d3f5" stroke="#1c3347" stroke-width="2.2"/>
<path d="M332.1 388.7L331.6 389.1L330.8 389.8L329.7 390.7L328.6 391.9L327.4 393.4L326.5 395.1L325.9 397.0L325.4 399.0L325.0 401.1L324.8 403.2L324.5 405.4L324.4 407.6L324.4 409.8L324.4 412.1L324.5 414.3L324.7 416.6L324.9 418.8L325.0 420.9L325.1 423.1L325.3 425.4L325.5 427.7L325.7 429.8L325.8 431.6L325.9 432.9L327.3 434.1L330.3 433.9L331.5 432.5L331.4 431.2L331.2 429.4L331.1 427.3L330.9 425.0L330.7 422.7L330.6 420.5L330.4 418.4L330.3 416.2L330.1 414.0L330.0 411.8L330.0 409.8L330.0 407.8L330.1 405.9L330.3 403.8L330.6 401.9L330.9 400.1L331.3 398.5L331.7 397.3L332.2 396.4L332.8 395.6L333.6 394.8L334.4 394.0L335.3 393.3L335.9 392.7L336.0 390.9L333.9 388.7ZM340.8 391.5L341.0 392.1L341.2 392.9L341.5 393.7L341.7 394.7L342.0 395.7L342.1 397.0L342.2 398.5L342.3 400.3L342.3 402.4L342.3 404.5L342.3 406.6L342.3 408.7L342.3 410.6L342.2 412.6L342.2 414.6L342.1 416.5L342.0 418.5L341.9 420.6L341.8 422.8L341.7 425.2L341.5 427.6L341.4 429.8L341.3 431.8L341.2 433.1L342.4 434.5L345.5 434.7L346.8 433.5L346.9 432.1L347.0 430.2L347.1 427.9L347.3 425.5L347.4 423.1L347.5 420.8L347.6 418.8L347.7 416.8L347.8 414.8L347.8 412.8L347.9 410.7L347.9 408.7L347.9 406.6L347.9 404.5L347.9 402.3L347.9 400.2L347.8 398.2L347.7 396.4L347.5 394.8L347.2 393.4L346.9 392.2L346.6 391.2L346.3 390.5L346.2 389.9L344.6 389.0L341.7 389.9ZM324.5 439.5L324.5 440.5L324.6 441.9L324.6 443.5L324.7 445.4L324.7 447.2L324.8 449.1L324.9 451.0L324.9 453.0L325.0 455.1L325.0 457.2L325.1 459.2L325.2 461.1L325.3 462.9L325.4 464.6L325.5 466.3L325.6 468.0L325.7 469.6L325.9 471.4L326.2 473.2L326.5 475.2L326.9 477.2L327.2 478.9L327.5 480.4L327.8 481.5L329.2 482.6L332.3 482.0L333.2 480.5L333.0 479.4L332.7 477.9L332.4 476.1L332.0 474.2L331.7 472.3L331.5 470.6L331.3 469.1L331.2 467.5L331.1 466.0L331.0 464.3L330.9 462.6L330.8 460.9L330.7 459.0L330.6 457.0L330.6 454.9L330.5 452.8L330.5 450.8L330.4 448.9L330.3 447.1L330.3 445.2L330.2 443.4L330.2 441.7L330.1 440.3L330.1 439.3L328.8 438.1L325.7 438.1ZM340.5 441.5L340.7 442.3L340.9 443.4L341.1 444.7L341.4 446.2L341.7 447.8L341.9 449.5L342.3 451.3L342.7 453.3L343.2 455.4L343.5 457.4L343.8 459.3L343.9 461.0L343.8 462.7L343.6 464.4L343.3 466.1L342.9 467.9L342.5 469.6L342.0 471.2L341.5 472.7L340.8 474.4L340.1 476.0L339.4 477.5L338.7 478.8L338.3 479.8L338.9 481.5L341.6 482.8L343.3 482.2L343.8 481.3L344.4 480.0L345.2 478.4L346.0 476.6L346.7 474.7L347.4 472.8L347.9 471.0L348.4 469.2L348.8 467.2L349.2 465.2L349.4 463.1L349.5 461.0L349.4 458.7L349.1 456.5L348.7 454.3L348.2 452.2L347.8 450.2L347.5 448.5L347.2 446.9L346.9 445.3L346.6 443.8L346.4 442.4L346.2 441.3L346.1 440.5L344.6 439.5L341.6 440.0Z" fill="#c2d9f0" stroke="#1c3347" stroke-width="2.6" stroke-linejoin="round"/><ellipse cx="336.5" cy="382.7" rx="14.5" ry="11.1" fill="#a8d3f5" stroke="#1c3347" stroke-width="2.2"/><ellipse cx="336.5" cy="489.0" rx="14.5" ry="11.1" fill="#a8d3f5" stroke="#1c3347" stroke-width="2.2"/>
<path d="M398.6 388.7L398.1 389.1L397.3 389.8L396.2 390.7L395.1 391.9L393.9 393.4L393.0 395.1L392.4 397.0L391.9 399.0L391.5 401.1L391.3 403.2L391.0 405.4L390.9 407.6L390.9 409.8L390.9 412.1L391.0 414.3L391.2 416.6L391.4 418.8L391.5 420.9L391.6 423.1L391.8 425.4L392.0 427.7L392.2 429.8L392.3 431.6L392.4 432.9L393.8 434.1L396.8 433.9L398.0 432.5L397.9 431.2L397.7 429.4L397.6 427.3L397.4 425.0L397.2 422.7L397.1 420.5L396.9 418.4L396.8 416.2L396.6 414.0L396.5 411.8L396.5 409.8L396.5 407.8L396.6 405.9L396.8 403.8L397.1 401.9L397.4 400.1L397.8 398.5L398.2 397.3L398.7 396.4L399.3 395.6L400.1 394.8L400.9 394.0L401.8 393.3L402.4 392.7L402.5 390.9L400.4 388.7ZM407.3 391.5L407.5 392.1L407.7 392.9L408.0 393.7L408.2 394.7L408.5 395.7L408.6 397.0L408.7 398.5L408.8 400.3L408.8 402.4L408.8 404.5L408.8 406.6L408.8 408.7L408.8 410.6L408.7 412.6L408.7 414.6L408.6 416.5L408.5 418.5L408.4 420.6L408.3 422.8L408.2 425.2L408.0 427.6L407.9 429.8L407.8 431.8L407.7 433.1L408.9 434.5L412.0 434.7L413.3 433.5L413.4 432.1L413.5 430.2L413.6 427.9L413.8 425.5L413.9 423.1L414.0 420.8L414.1 418.8L414.2 416.8L414.3 414.8L414.3 412.8L414.4 410.7L414.4 408.7L414.4 406.6L414.4 404.5L414.4 402.3L414.4 400.2L414.3 398.2L414.2 396.4L414.0 394.8L413.7 393.4L413.4 392.2L413.1 391.2L412.8 390.5L412.7 389.9L411.1 389.0L408.2 389.9ZM391.0 439.5L391.0 440.5L391.1 441.9L391.1 443.5L391.2 445.4L391.2 447.2L391.3 449.1L391.4 451.0L391.4 453.0L391.5 455.1L391.5 457.2L391.6 459.2L391.7 461.1L391.8 462.9L391.9 464.6L392.0 466.3L392.1 468.0L392.2 469.6L392.4 471.4L392.7 473.2L393.0 475.2L393.4 477.2L393.7 478.9L394.0 480.4L394.3 481.5L395.7 482.6L398.8 482.0L399.7 480.5L399.5 479.4L399.2 477.9L398.9 476.1L398.5 474.2L398.2 472.3L398.0 470.6L397.8 469.1L397.7 467.5L397.6 466.0L397.5 464.3L397.4 462.6L397.3 460.9L397.2 459.0L397.1 457.0L397.1 454.9L397.0 452.8L397.0 450.8L396.9 448.9L396.8 447.1L396.8 445.2L396.7 443.4L396.7 441.7L396.6 440.3L396.6 439.3L395.3 438.1L392.2 438.1ZM407.0 441.5L407.2 442.3L407.4 443.4L407.6 444.7L407.9 446.2L408.2 447.8L408.4 449.5L408.8 451.3L409.2 453.3L409.7 455.4L410.0 457.4L410.3 459.3L410.4 461.0L410.3 462.7L410.1 464.4L409.8 466.1L409.4 467.9L409.0 469.6L408.5 471.2L408.0 472.7L407.3 474.4L406.6 476.0L405.9 477.5L405.2 478.8L404.8 479.8L405.4 481.5L408.1 482.8L409.8 482.2L410.3 481.3L410.9 480.0L411.7 478.4L412.5 476.6L413.2 474.7L413.9 472.8L414.4 471.0L414.9 469.2L415.3 467.2L415.7 465.2L415.9 463.1L416.0 461.0L415.9 458.7L415.6 456.5L415.2 454.3L414.7 452.2L414.3 450.2L414.0 448.5L413.7 446.9L413.4 445.3L413.1 443.8L412.9 442.4L412.7 441.3L412.6 440.5L411.1 439.5L408.1 440.0Z" fill="#c2d9f0" stroke="#1c3347" stroke-width="2.6" stroke-linejoin="round"/><ellipse cx="403.0" cy="382.7" rx="14.5" ry="11.1" fill="#a8d3f5" stroke="#1c3347" stroke-width="2.2"/><ellipse cx="403.0" cy="489.0" rx="14.5" ry="11.1" fill="#a8d3f5" stroke="#1c3347" stroke-width="2.2"/>
<path d="M432.0 388.7L431.5 389.1L430.7 389.8L429.6 390.7L428.5 391.9L427.3 393.4L426.4 395.1L425.8 397.0L425.3 399.0L424.9 401.1L424.7 403.2L424.4 405.4L424.3 407.6L424.3 409.8L424.3 412.1L424.4 414.3L424.6 416.6L424.8 418.8L424.9 420.9L425.0 423.1L425.2 425.4L425.4 427.7L425.6 429.8L425.7 431.6L425.8 432.9L427.2 434.1L430.2 433.9L431.4 432.5L431.3 431.2L431.1 429.4L431.0 427.3L430.8 425.0L430.6 422.7L430.5 420.5L430.3 418.4L430.2 416.2L430.0 414.0L429.9 411.8L429.9 409.8L429.9 407.8L430.0 405.9L430.2 403.8L430.5 401.9L430.8 400.1L431.2 398.5L431.6 397.3L432.1 396.4L432.7 395.6L433.5 394.8L434.3 394.0L435.2 393.3L435.8 392.7L435.9 390.9L433.8 388.7ZM440.7 391.5L440.9 392.1L441.1 392.9L441.4 393.7L441.6 394.7L441.9 395.7L442.0 397.0L442.1 398.5L442.2 400.3L442.2 402.4L442.2 404.5L442.2 406.6L442.2 408.7L442.2 410.6L442.1 412.6L442.1 414.6L442.0 416.5L441.9 418.5L441.8 420.6L441.7 422.8L441.6 425.2L441.4 427.6L441.3 429.8L441.2 431.8L441.1 433.1L442.3 434.5L445.4 434.7L446.7 433.5L446.8 432.1L446.9 430.2L447.0 427.9L447.2 425.5L447.3 423.1L447.4 420.8L447.5 418.8L447.6 416.8L447.7 414.8L447.7 412.8L447.8 410.7L447.8 408.7L447.8 406.6L447.8 404.5L447.8 402.3L447.8 400.2L447.7 398.2L447.6 396.4L447.4 394.8L447.1 393.4L446.8 392.2L446.5 391.2L446.2 390.5L446.1 389.9L444.5 389.0L441.6 389.9ZM424.4 439.5L424.4 440.5L424.5 441.9L424.5 443.5L424.6 445.4L424.6 447.2L424.7 449.1L424.8 451.0L424.8 453.0L424.9 455.1L424.9 457.2L425.0 459.2L425.1 461.1L425.2 462.9L425.3 464.6L425.4 466.3L425.5 468.0L425.6 469.6L425.8 471.4L426.1 473.2L426.4 475.2L426.8 477.2L427.1 478.9L427.4 480.4L427.7 481.5L429.1 482.6L432.2 482.0L433.1 480.5L432.9 479.4L432.6 477.9L432.3 476.1L431.9 474.2L431.6 472.3L431.4 470.6L431.2 469.1L431.1 467.5L431.0 466.0L430.9 464.3L430.8 462.6L430.7 460.9L430.6 459.0L430.5 457.0L430.5 454.9L430.4 452.8L430.4 450.8L430.3 448.9L430.2 447.1L430.2 445.2L430.1 443.4L430.1 441.7L430.0 440.3L430.0 439.3L428.7 438.1L425.6 438.1ZM440.4 441.5L440.6 442.3L440.8 443.4L441.0 444.7L441.3 446.2L441.6 447.8L441.8 449.5L442.2 451.3L442.6 453.3L443.1 455.4L443.4 457.4L443.7 459.3L443.8 461.0L443.7 462.7L443.5 464.4L443.2 466.1L442.8 467.9L442.4 469.6L441.9 471.2L441.4 472.7L440.7 474.4L440.0 476.0L439.3 477.5L438.6 478.8L438.2 479.8L438.8 481.5L441.5 482.8L443.2 482.2L443.7 481.3L444.3 480.0L445.1 478.4L445.9 476.6L446.6 474.7L447.3 472.8L447.8 471.0L448.3 469.2L448.7 467.2L449.1 465.2L449.3 463.1L449.4 461.0L449.3 458.7L449.0 456.5L448.6 454.3L448.1 452.2L447.7 450.2L447.4 448.5L447.1 446.9L446.8 445.3L446.5 443.8L446.3 442.4L446.1 441.3L446.0 440.5L444.5 439.5L441.5 440.0Z" fill="#c2d9f0" stroke="#1c3347" stroke-width="2.6" stroke-linejoin="round"/><ellipse cx="436.4" cy="382.7" rx="14.5" ry="11.1" fill="#a8d3f5" stroke="#1c3347" stroke-width="2.2"/><ellipse cx="436.4" cy="489.0" rx="14.5" ry="11.1" fill="#a8d3f5" stroke="#1c3347" stroke-width="2.2"/>
<path d="M465.9 388.7L465.4 389.1L464.6 389.8L463.5 390.7L462.4 391.9L461.2 393.4L460.3 395.1L459.7 397.0L459.2 399.0L458.8 401.1L458.6 403.2L458.3 405.4L458.2 407.6L458.2 409.8L458.2 412.1L458.3 414.3L458.5 416.6L458.7 418.8L458.8 420.9L458.9 423.1L459.1 425.4L459.3 427.7L459.5 429.8L459.6 431.6L459.7 432.9L461.1 434.1L464.1 433.9L465.3 432.5L465.2 431.2L465.0 429.4L464.9 427.3L464.7 425.0L464.5 422.7L464.4 420.5L464.2 418.4L464.1 416.2L463.9 414.0L463.8 411.8L463.8 409.8L463.8 407.8L463.9 405.9L464.1 403.8L464.4 401.9L464.7 400.1L465.1 398.5L465.5 397.3L466.0 396.4L466.6 395.6L467.4 394.8L468.2 394.0L469.1 393.3L469.7 392.7L469.8 390.9L467.7 388.7ZM474.6 391.5L474.8 392.1L475.0 392.9L475.3 393.7L475.5 394.7L475.8 395.7L475.9 397.0L476.0 398.5L476.1 400.3L476.1 402.4L476.1 404.5L476.1 406.6L476.1 408.7L476.1 410.6L476.0 412.6L476.0 414.6L475.9 416.5L475.8 418.5L475.7 420.6L475.6 422.8L475.5 425.2L475.3 427.6L475.2 429.8L475.1 431.8L475.0 433.1L476.2 434.5L479.3 434.7L480.6 433.5L480.7 432.1L480.8 430.2L480.9 427.9L481.1 425.5L481.2 423.1L481.3 420.8L481.4 418.8L481.5 416.8L481.6 414.8L481.6 412.8L481.7 410.7L481.7 408.7L481.7 406.6L481.7 404.5L481.7 402.3L481.7 400.2L481.6 398.2L481.5 396.4L481.3 394.8L481.0 393.4L480.7 392.2L480.4 391.2L480.1 390.5L480.0 389.9L478.4 389.0L475.5 389.9ZM458.3 439.5L458.3 440.5L458.4 441.9L458.4 443.5L458.5 445.4L458.5 447.2L458.6 449.1L458.7 451.0L458.7 453.0L458.8 455.1L458.8 457.2L458.9 459.2L459.0 461.1L459.1 462.9L459.2 464.6L459.3 466.3L459.4 468.0L459.5 469.6L459.7 471.4L460.0 473.2L460.3 475.2L460.7 477.2L461.0 478.9L461.3 480.4L461.6 481.5L463.0 482.6L466.1 482.0L467.0 480.5L466.8 479.4L466.5 477.9L466.2 476.1L465.8 474.2L465.5 472.3L465.3 470.6L465.1 469.1L465.0 467.5L464.9 466.0L464.8 464.3L464.7 462.6L464.6 460.9L464.5 459.0L464.4 457.0L464.4 454.9L464.3 452.8L464.3 450.8L464.2 448.9L464.1 447.1L464.1 445.2L464.0 443.4L464.0 441.7L463.9 440.3L463.9 439.3L462.6 438.1L459.5 438.1ZM474.3 441.5L474.5 442.3L474.7 443.4L474.9 444.7L475.2 446.2L475.5 447.8L475.7 449.5L476.1 451.3L476.5 453.3L477.0 455.4L477.3 457.4L477.6 459.3L477.7 461.0L477.6 462.7L477.4 464.4L477.1 466.1L476.7 467.9L476.3 469.6L475.8 471.2L475.3 472.7L474.6 474.4L473.9 476.0L473.2 477.5L472.5 478.8L472.1 479.8L472.7 481.5L475.4 482.8L477.1 482.2L477.6 481.3L478.2 480.0L479.0 478.4L479.8 476.6L480.5 474.7L481.2 472.8L481.7 471.0L482.2 469.2L482.6 467.2L483.0 465.2L483.2 463.1L483.3 461.0L483.2 458.7L482.9 456.5L482.5 454.3L482.0 452.2L481.6 450.2L481.3 448.5L481.0 446.9L480.7 445.3L480.4 443.8L480.2 442.4L480.0 441.3L479.9 440.5L478.4 439.5L475.4 440.0Z" fill="#c2d9f0" stroke="#1c3347" stroke-width="2.6" stroke-linejoin="round"/><ellipse cx="470.3" cy="382.7" rx="14.5" ry="11.1" fill="#a8d3f5" stroke="#1c3347" stroke-width="2.2"/><ellipse cx="470.3" cy="489.0" rx="14.5" ry="11.1" fill="#a8d3f5" stroke="#1c3347" stroke-width="2.2"/>
<path d="M499.8 388.7L499.3 389.1L498.5 389.8L497.4 390.7L496.3 391.9L495.1 393.4L494.2 395.1L493.6 397.0L493.1 399.0L492.7 401.1L492.5 403.2L492.2 405.4L492.1 407.6L492.1 409.8L492.1 412.1L492.2 414.3L492.4 416.6L492.6 418.8L492.7 420.9L492.8 423.1L493.0 425.4L493.2 427.7L493.4 429.8L493.5 431.6L493.6 432.9L495.0 434.1L498.0 433.9L499.2 432.5L499.1 431.2L498.9 429.4L498.8 427.3L498.6 425.0L498.4 422.7L498.3 420.5L498.1 418.4L498.0 416.2L497.8 414.0L497.7 411.8L497.7 409.8L497.7 407.8L497.8 405.9L498.0 403.8L498.3 401.9L498.6 400.1L499.0 398.5L499.4 397.3L499.9 396.4L500.5 395.6L501.3 394.8L502.1 394.0L503.0 393.3L503.6 392.7L503.7 390.9L501.6 388.7ZM508.5 391.5L508.7 392.1L508.9 392.9L509.2 393.7L509.4 394.7L509.7 395.7L509.8 397.0L509.9 398.5L510.0 400.3L510.0 402.4L510.0 404.5L510.0 406.6L510.0 408.7L510.0 410.6L509.9 412.6L509.9 414.6L509.8 416.5L509.7 418.5L509.6 420.6L509.5 422.8L509.4 425.2L509.2 427.6L509.1 429.8L509.0 431.8L508.9 433.1L510.1 434.5L513.2 434.7L514.5 433.5L514.6 432.1L514.7 430.2L514.8 427.9L515.0 425.5L515.1 423.1L515.2 420.8L515.3 418.8L515.4 416.8L515.5 414.8L515.5 412.8L515.6 410.7L515.6 408.7L515.6 406.6L515.6 404.5L515.6 402.3L515.6 400.2L515.5 398.2L515.4 396.4L515.2 394.8L514.9 393.4L514.6 392.2L514.3 391.2L514.0 390.5L513.9 389.9L512.3 389.0L509.4 389.9ZM492.2 439.5L492.2 440.5L492.3 441.9L492.3 443.5L492.4 445.4L492.4 447.2L492.5 449.1L492.6 451.0L492.6 453.0L492.7 455.1L492.7 457.2L492.8 459.2L492.9 461.1L493.0 462.9L493.1 464.6L493.2 466.3L493.3 468.0L493.4 469.6L493.6 471.4L493.9 473.2L494.2 475.2L494.6 477.2L494.9 478.9L495.2 480.4L495.5 481.5L496.9 482.6L500.0 482.0L500.9 480.5L500.7 479.4L500.4 477.9L500.1 476.1L499.7 474.2L499.4 472.3L499.2 470.6L499.0 469.1L498.9 467.5L498.8 466.0L498.7 464.3L498.6 462.6L498.5 460.9L498.4 459.0L498.3 457.0L498.3 454.9L498.2 452.8L498.2 450.8L498.1 448.9L498.0 447.1L498.0 445.2L497.9 443.4L497.9 441.7L497.8 440.3L497.8 439.3L496.5 438.1L493.4 438.1ZM508.2 441.5L508.4 442.3L508.6 443.4L508.8 444.7L509.1 446.2L509.4 447.8L509.6 449.5L510.0 451.3L510.4 453.3L510.9 455.4L511.2 457.4L511.5 459.3L511.6 461.0L511.5 462.7L511.3 464.4L511.0 466.1L510.6 467.9L510.2 469.6L509.7 471.2L509.2 472.7L508.5 474.4L507.8 476.0L507.1 477.5L506.4 478.8L506.0 479.8L506.6 481.5L509.3 482.8L511.0 482.2L511.5 481.3L512.1 480.0L512.9 478.4L513.7 476.6L514.4 474.7L515.1 472.8L515.6 471.0L516.1 469.2L516.5 467.2L516.9 465.2L517.1 463.1L517.2 461.0L517.1 458.7L516.8 456.5L516.4 454.3L515.9 452.2L515.5 450.2L515.2 448.5L514.9 446.9L514.6 445.3L514.3 443.8L514.1 442.4L513.9 441.3L513.8 440.5L512.3 439.5L509.3 440.0Z" fill="#c2d9f0" stroke="#1c3347" stroke-width="2.6" stroke-linejoin="round"/><ellipse cx="504.2" cy="382.7" rx="14.5" ry="11.1" fill="#a8d3f5" stroke="#1c3347" stroke-width="2.2"/><ellipse cx="504.2" cy="489.0" rx="14.5" ry="11.1" fill="#a8d3f5" stroke="#1c3347" stroke-width="2.2"/>
<path d="M532.4 388.7L531.9 389.1L531.1 389.8L530.0 390.7L528.9 391.9L527.7 393.4L526.8 395.1L526.2 397.0L525.7 399.0L525.3 401.1L525.1 403.2L524.8 405.4L524.7 407.6L524.7 409.8L524.7 412.1L524.8 414.3L525.0 416.6L525.2 418.8L525.3 420.9L525.4 423.1L525.6 425.4L525.8 427.7L526.0 429.8L526.1 431.6L526.2 432.9L527.6 434.1L530.6 433.9L531.8 432.5L531.7 431.2L531.5 429.4L531.4 427.3L531.2 425.0L531.0 422.7L530.9 420.5L530.7 418.4L530.6 416.2L530.4 414.0L530.3 411.8L530.3 409.8L530.3 407.8L530.4 405.9L530.6 403.8L530.9 401.9L531.2 400.1L531.6 398.5L532.0 397.3L532.5 396.4L533.1 395.6L533.9 394.8L534.7 394.0L535.6 393.3L536.2 392.7L536.3 390.9L534.2 388.7ZM541.1 391.5L541.3 392.1L541.5 392.9L541.8 393.7L542.0 394.7L542.3 395.7L542.4 397.0L542.5 398.5L542.6 400.3L542.6 402.4L542.6 404.5L542.6 406.6L542.6 408.7L542.6 410.6L542.5 412.6L542.5 414.6L542.4 416.5L542.3 418.5L542.2 420.6L542.1 422.8L542.0 425.2L541.8 427.6L541.7 429.8L541.6 431.8L541.5 433.1L542.7 434.5L545.8 434.7L547.1 433.5L547.2 432.1L547.3 430.2L547.4 427.9L547.6 425.5L547.7 423.1L547.8 420.8L547.9 418.8L548.0 416.8L548.1 414.8L548.1 412.8L548.2 410.7L548.2 408.7L548.2 406.6L548.2 404.5L548.2 402.3L548.2 400.2L548.1 398.2L548.0 396.4L547.8 394.8L547.5 393.4L547.2 392.2L546.9 391.2L546.6 390.5L546.5 389.9L544.9 389.0L542.0 389.9ZM524.8 439.5L524.8 440.5L524.9 441.9L524.9 443.5L525.0 445.4L525.0 447.2L525.1 449.1L525.2 451.0L525.2 453.0L525.3 455.1L525.3 457.2L525.4 459.2L525.5 461.1L525.6 462.9L525.7 464.6L525.8 466.3L525.9 468.0L526.0 469.6L526.2 471.4L526.5 473.2L526.8 475.2L527.2 477.2L527.5 478.9L527.8 480.4L528.1 481.5L529.5 482.6L532.6 482.0L533.5 480.5L533.3 479.4L533.0 477.9L532.7 476.1L532.3 474.2L532.0 472.3L531.8 470.6L531.6 469.1L531.5 467.5L531.4 466.0L531.3 464.3L531.2 462.6L531.1 460.9L531.0 459.0L530.9 457.0L530.9 454.9L530.8 452.8L530.8 450.8L530.7 448.9L530.6 447.1L530.6 445.2L530.5 443.4L530.5 441.7L530.4 440.3L530.4 439.3L529.1 438.1L526.0 438.1ZM540.8 441.5L541.0 442.3L541.2 443.4L541.4 444.7L541.7 446.2L542.0 447.8L542.2 449.5L542.6 451.3L543.0 453.3L543.5 455.4L543.8 457.4L544.1 459.3L544.2 461.0L544.1 462.7L543.9 464.4L543.6 466.1L543.2 467.9L542.8 469.6L542.3 471.2L541.8 472.7L541.1 474.4L540.4 476.0L539.7 477.5L539.0 478.8L538.6 479.8L539.2 481.5L541.9 482.8L543.6 482.2L544.1 481.3L544.7 480.0L545.5 478.4L546.3 476.6L547.0 474.7L547.7 472.8L548.2 471.0L548.7 469.2L549.1 467.2L549.5 465.2L549.7 463.1L549.8 461.0L549.7 458.7L549.4 456.5L549.0 454.3L548.5 452.2L548.1 450.2L547.8 448.5L547.5 446.9L547.2 445.3L546.9 443.8L546.7 442.4L546.5 441.3L546.4 440.5L544.9 439.5L541.9 440.0Z" fill="#c2d9f0" stroke="#1c3347" stroke-width="2.6" stroke-linejoin="round"/><ellipse cx="536.8" cy="382.7" rx="14.5" ry="11.1" fill="#a8d3f5" stroke="#1c3347" stroke-width="2.2"/><ellipse cx="536.8" cy="489.0" rx="14.5" ry="11.1" fill="#a8d3f5" stroke="#1c3347" stroke-width="2.2"/>
<path d="M565.6 388.7L565.1 389.1L564.3 389.8L563.2 390.7L562.1 391.9L560.9 393.4L560.0 395.1L559.4 397.0L558.9 399.0L558.5 401.1L558.3 403.2L558.0 405.4L557.9 407.6L557.9 409.8L557.9 412.1L558.0 414.3L558.2 416.6L558.4 418.8L558.5 420.9L558.6 423.1L558.8 425.4L559.0 427.7L559.2 429.8L559.3 431.6L559.4 432.9L560.8 434.1L563.8 433.9L565.0 432.5L564.9 431.2L564.7 429.4L564.6 427.3L564.4 425.0L564.2 422.7L564.1 420.5L563.9 418.4L563.8 416.2L563.6 414.0L563.5 411.8L563.5 409.8L563.5 407.8L563.6 405.9L563.8 403.8L564.1 401.9L564.4 400.1L564.8 398.5L565.2 397.3L565.7 396.4L566.3 395.6L567.1 394.8L567.9 394.0L568.8 393.3L569.4 392.7L569.5 390.9L567.4 388.7ZM574.3 391.5L574.5 392.1L574.7 392.9L575.0 393.7L575.2 394.7L575.5 395.7L575.6 397.0L575.7 398.5L575.8 400.3L575.8 402.4L575.8 404.5L575.8 406.6L575.8 408.7L575.8 410.6L575.7 412.6L575.7 414.6L575.6 416.5L575.5 418.5L575.4 420.6L575.3 422.8L575.2 425.2L575.0 427.6L574.9 429.8L574.8 431.8L574.7 433.1L575.9 434.5L579.0 434.7L580.3 433.5L580.4 432.1L580.5 430.2L580.6 427.9L580.8 425.5L580.9 423.1L581.0 420.8L581.1 418.8L581.2 416.8L581.3 414.8L581.3 412.8L581.4 410.7L581.4 408.7L581.4 406.6L581.4 404.5L581.4 402.3L581.4 400.2L581.3 398.2L581.2 396.4L581.0 394.8L580.7 393.4L580.4 392.2L580.1 391.2L579.8 390.5L579.7 389.9L578.1 389.0L575.2 389.9ZM558.0 439.5L558.0 440.5L558.1 441.9L558.1 443.5L558.2 445.4L558.2 447.2L558.3 449.1L558.4 451.0L558.4 453.0L558.5 455.1L558.5 457.2L558.6 459.2L558.7 461.1L558.8 462.9L558.9 464.6L559.0 466.3L559.1 468.0L559.2 469.6L559.4 471.4L559.7 473.2L560.0 475.2L560.4 477.2L560.7 478.9L561.0 480.4L561.3 481.5L562.7 482.6L565.8 482.0L566.7 480.5L566.5 479.4L566.2 477.9L565.9 476.1L565.5 474.2L565.2 472.3L565.0 470.6L564.8 469.1L564.7 467.5L564.6 466.0L564.5 464.3L564.4 462.6L564.3 460.9L564.2 459.0L564.1 457.0L564.1 454.9L564.0 452.8L564.0 450.8L563.9 448.9L563.8 447.1L563.8 445.2L563.7 443.4L563.7 441.7L563.6 440.3L563.6 439.3L562.3 438.1L559.2 438.1ZM574.0 441.5L574.2 442.3L574.4 443.4L574.6 444.7L574.9 446.2L575.2 447.8L575.4 449.5L575.8 451.3L576.2 453.3L576.7 455.4L577.0 457.4L577.3 459.3L577.4 461.0L577.3 462.7L577.1 464.4L576.8 466.1L576.4 467.9L576.0 469.6L575.5 471.2L575.0 472.7L574.3 474.4L573.6 476.0L572.9 477.5L572.2 478.8L571.8 479.8L572.4 481.5L575.1 482.8L576.8 482.2L577.3 481.3L577.9 480.0L578.7 478.4L579.5 476.6L580.2 474.7L580.9 472.8L581.4 471.0L581.9 469.2L582.3 467.2L582.7 465.2L582.9 463.1L583.0 461.0L582.9 458.7L582.6 456.5L582.2 454.3L581.7 452.2L581.3 450.2L581.0 448.5L580.7 446.9L580.4 445.3L580.1 443.8L579.9 442.4L579.7 441.3L579.6 440.5L578.1 439.5L575.1 440.0Z" fill="#c2d9f0" stroke="#1c3347" stroke-width="2.6" stroke-linejoin="round"/><ellipse cx="570.0" cy="382.7" rx="14.5" ry="11.1" fill="#a8d3f5" stroke="#1c3347" stroke-width="2.2"/><ellipse cx="570.0" cy="489.0" rx="14.5" ry="11.1" fill="#a8d3f5" stroke="#1c3347" stroke-width="2.2"/>
<path d="M598.6 388.7L598.1 389.1L597.3 389.8L596.2 390.7L595.1 391.9L593.9 393.4L593.0 395.1L592.4 397.0L591.9 399.0L591.5 401.1L591.3 403.2L591.0 405.4L590.9 407.6L590.9 409.8L590.9 412.1L591.0 414.3L591.2 416.6L591.4 418.8L591.5 420.9L591.6 423.1L591.8 425.4L592.0 427.7L592.2 429.8L592.3 431.6L592.4 432.9L593.8 434.1L596.8 433.9L598.0 432.5L597.9 431.2L597.7 429.4L597.6 427.3L597.4 425.0L597.2 422.7L597.1 420.5L596.9 418.4L596.8 416.2L596.6 414.0L596.5 411.8L596.5 409.8L596.5 407.8L596.6 405.9L596.8 403.8L597.1 401.9L597.4 400.1L597.8 398.5L598.2 397.3L598.7 396.4L599.3 395.6L600.1 394.8L600.9 394.0L601.8 393.3L602.4 392.7L602.5 390.9L600.4 388.7ZM607.3 391.5L607.5 392.1L607.7 392.9L608.0 393.7L608.2 394.7L608.5 395.7L608.6 397.0L608.7 398.5L608.8 400.3L608.8 402.4L608.8 404.5L608.8 406.6L608.8 408.7L608.8 410.6L608.7 412.6L608.7 414.6L608.6 416.5L608.5 418.5L608.4 420.6L608.3 422.8L608.2 425.2L608.0 427.6L607.9 429.8L607.8 431.8L607.7 433.1L608.9 434.5L612.0 434.7L613.3 433.5L613.4 432.1L613.5 430.2L613.6 427.9L613.8 425.5L613.9 423.1L614.0 420.8L614.1 418.8L614.2 416.8L614.3 414.8L614.3 412.8L614.4 410.7L614.4 408.7L614.4 406.6L614.4 404.5L614.4 402.3L614.4 400.2L614.3 398.2L614.2 396.4L614.0 394.8L613.7 393.4L613.4 392.2L613.1 391.2L612.8 390.5L612.7 389.9L611.1 389.0L608.2 389.9ZM591.0 439.5L591.0 440.5L591.1 441.9L591.1 443.5L591.2 445.4L591.2 447.2L591.3 449.1L591.4 451.0L591.4 453.0L591.5 455.1L591.5 457.2L591.6 459.2L591.7 461.1L591.8 462.9L591.9 464.6L592.0 466.3L592.1 468.0L592.2 469.6L592.4 471.4L592.7 473.2L593.0 475.2L593.4 477.2L593.7 478.9L594.0 480.4L594.3 481.5L595.7 482.6L598.8 482.0L599.7 480.5L599.5 479.4L599.2 477.9L598.9 476.1L598.5 474.2L598.2 472.3L598.0 470.6L597.8 469.1L597.7 467.5L597.6 466.0L597.5 464.3L597.4 462.6L597.3 460.9L597.2 459.0L597.1 457.0L597.1 454.9L597.0 452.8L597.0 450.8L596.9 448.9L596.8 447.1L596.8 445.2L596.7 443.4L596.7 441.7L596.6 440.3L596.6 439.3L595.3 438.1L592.2 438.1ZM607.0 441.5L607.2 442.3L607.4 443.4L607.6 444.7L607.9 446.2L608.2 447.8L608.4 449.5L608.8 451.3L609.2 453.3L609.7 455.4L610.0 457.4L610.3 459.3L610.4 461.0L610.3 462.7L610.1 464.4L609.8 466.1L609.4 467.9L609.0 469.6L608.5 471.2L608.0 472.7L607.3 474.4L606.6 476.0L605.9 477.5L605.2 478.8L604.8 479.8L605.4 481.5L608.1 482.8L609.8 482.2L610.3 481.3L610.9 480.0L611.7 478.4L612.5 476.6L613.2 474.7L613.9 472.8L614.4 471.0L614.9 469.2L615.3 467.2L615.7 465.2L615.9 463.1L616.0 461.0L615.9 458.7L615.6 456.5L615.2 454.3L614.7 452.2L614.3 450.2L614.0 448.5L613.7 446.9L613.4 445.3L613.1 443.8L612.9 442.4L612.7 441.3L612.6 440.5L611.1 439.5L608.1 440.0Z" fill="#c2d9f0" stroke="#1c3347" stroke-width="2.6" stroke-linejoin="round"/><ellipse cx="603.0" cy="382.7" rx="14.5" ry="11.1" fill="#a8d3f5" stroke="#1c3347" stroke-width="2.2"/><ellipse cx="603.0" cy="489.0" rx="14.5" ry="11.1" fill="#a8d3f5" stroke="#1c3347" stroke-width="2.2"/>
<path d="M632.2 388.9L631.7 389.3L630.9 390.0L629.8 390.9L628.7 392.1L627.5 393.6L626.6 395.3L626.0 397.2L625.5 399.2L625.1 401.3L624.9 403.4L624.6 405.6L624.5 407.8L624.5 410.0L624.5 412.3L624.6 414.5L624.8 416.8L625.0 419.0L625.1 421.1L625.2 423.3L625.4 425.6L625.6 427.9L625.8 430.0L625.9 431.8L626.0 433.1L627.4 434.3L630.4 434.1L631.6 432.7L631.5 431.4L631.3 429.6L631.2 427.5L631.0 425.2L630.8 422.9L630.7 420.7L630.5 418.6L630.4 416.4L630.2 414.2L630.1 412.0L630.1 410.0L630.1 408.0L630.2 406.1L630.4 404.0L630.7 402.1L631.0 400.3L631.4 398.7L631.8 397.5L632.3 396.6L632.9 395.8L633.7 395.0L634.5 394.2L635.4 393.5L636.0 392.9L636.1 391.1L634.0 388.9ZM640.9 391.7L641.1 392.3L641.3 393.1L641.6 393.9L641.8 394.9L642.1 395.9L642.2 397.2L642.3 398.7L642.4 400.5L642.4 402.6L642.4 404.7L642.4 406.8L642.4 408.9L642.4 410.8L642.3 412.8L642.3 414.8L642.2 416.7L642.1 418.7L642.0 420.8L641.9 423.0L641.8 425.4L641.6 427.8L641.5 430.0L641.4 432.0L641.3 433.3L642.5 434.7L645.6 434.9L646.9 433.7L647.0 432.3L647.1 430.4L647.2 428.1L647.4 425.7L647.5 423.3L647.6 421.0L647.7 419.0L647.8 417.0L647.9 415.0L647.9 413.0L648.0 410.9L648.0 408.9L648.0 406.8L648.0 404.7L648.0 402.5L648.0 400.4L647.9 398.4L647.8 396.6L647.6 395.0L647.3 393.6L647.0 392.4L646.7 391.4L646.4 390.7L646.3 390.1L644.7 389.2L641.8 390.1ZM624.6 439.7L624.6 440.7L624.7 442.1L624.7 443.7L624.8 445.6L624.8 447.4L624.9 449.3L625.0 451.2L625.0 453.2L625.1 455.3L625.1 457.4L625.2 459.4L625.3 461.3L625.4 463.1L625.5 464.8L625.6 466.5L625.7 468.2L625.8 469.8L626.0 471.6L626.3 473.4L626.6 475.4L627.0 477.4L627.3 479.1L627.6 480.6L627.9 481.7L629.3 482.8L632.4 482.2L633.3 480.7L633.1 479.6L632.8 478.1L632.5 476.3L632.1 474.4L631.8 472.5L631.6 470.8L631.4 469.3L631.3 467.7L631.2 466.2L631.1 464.5L631.0 462.8L630.9 461.1L630.8 459.2L630.7 457.2L630.7 455.1L630.6 453.0L630.6 451.0L630.5 449.1L630.4 447.3L630.4 445.4L630.3 443.6L630.3 441.9L630.2 440.5L630.2 439.5L628.9 438.3L625.8 438.3ZM640.6 441.7L640.8 442.5L641.0 443.6L641.2 444.9L641.5 446.4L641.8 448.0L642.0 449.7L642.4 451.5L642.8 453.5L643.3 455.6L643.6 457.6L643.9 459.5L644.0 461.2L643.9 462.9L643.7 464.6L643.4 466.3L643.0 468.1L642.6 469.8L642.1 471.4L641.6 472.9L640.9 474.6L640.2 476.2L639.5 477.7L638.8 479.0L638.4 480.0L639.0 481.7L641.7 483.0L643.4 482.4L643.9 481.5L644.5 480.2L645.3 478.6L646.1 476.8L646.8 474.9L647.5 473.0L648.0 471.2L648.5 469.4L648.9 467.4L649.3 465.4L649.5 463.3L649.6 461.2L649.5 458.9L649.2 456.7L648.8 454.5L648.3 452.4L647.9 450.4L647.6 448.7L647.3 447.1L647.0 445.5L646.7 444.0L646.5 442.6L646.3 441.5L646.2 440.7L644.7 439.7L641.7 440.2Z" fill="#c2d9f0" stroke="#1c3347" stroke-width="2.6" stroke-linejoin="round"/><ellipse cx="636.6" cy="382.9" rx="14.5" ry="11.1" fill="#a8d3f5" stroke="#1c3347" stroke-width="2.2"/><ellipse cx="636.6" cy="489.2" rx="14.5" ry="11.1" fill="#a8d3f5" stroke="#1c3347" stroke-width="2.2"/>
<path d="M664.6 389.2L664.1 389.6L663.3 390.3L662.2 391.2L661.1 392.4L659.9 393.9L659.0 395.6L658.4 397.5L657.9 399.5L657.5 401.6L657.3 403.7L657.0 405.9L656.9 408.1L656.9 410.3L656.9 412.6L657.0 414.8L657.2 417.1L657.4 419.3L657.5 421.4L657.6 423.6L657.8 425.9L658.0 428.2L658.2 430.3L658.3 432.1L658.4 433.4L659.8 434.6L662.8 434.4L664.0 433.0L663.9 431.7L663.7 429.9L663.6 427.8L663.4 425.5L663.2 423.2L663.1 421.0L662.9 418.9L662.8 416.7L662.6 414.5L662.5 412.3L662.5 410.3L662.5 408.3L662.6 406.4L662.8 404.3L663.1 402.4L663.4 400.6L663.8 399.0L664.2 397.8L664.7 396.9L665.3 396.1L666.1 395.3L666.9 394.5L667.8 393.8L668.4 393.2L668.5 391.4L666.4 389.2ZM673.3 392.0L673.5 392.6L673.7 393.4L674.0 394.2L674.2 395.2L674.5 396.2L674.6 397.5L674.7 399.0L674.8 400.8L674.8 402.9L674.8 405.0L674.8 407.1L674.8 409.2L674.8 411.1L674.7 413.1L674.7 415.1L674.6 417.0L674.5 419.0L674.4 421.1L674.3 423.3L674.2 425.7L674.0 428.1L673.9 430.3L673.8 432.3L673.7 433.6L674.9 435.0L678.0 435.2L679.3 434.0L679.4 432.6L679.5 430.7L679.6 428.4L679.8 426.0L679.9 423.6L680.0 421.3L680.1 419.3L680.2 417.3L680.3 415.3L680.3 413.3L680.4 411.2L680.4 409.2L680.4 407.1L680.4 405.0L680.4 402.8L680.4 400.7L680.3 398.7L680.2 396.9L680.0 395.3L679.7 393.9L679.4 392.7L679.1 391.7L678.8 391.0L678.7 390.4L677.1 389.5L674.2 390.4ZM657.0 440.0L657.0 441.0L657.1 442.4L657.1 444.0L657.2 445.9L657.2 447.7L657.3 449.6L657.4 451.5L657.4 453.5L657.5 455.6L657.5 457.7L657.6 459.7L657.7 461.6L657.8 463.4L657.9 465.1L658.0 466.8L658.1 468.5L658.2 470.1L658.4 471.9L658.7 473.7L659.0 475.7L659.4 477.7L659.7 479.4L660.0 480.9L660.3 482.0L661.7 483.1L664.8 482.5L665.7 481.0L665.5 479.9L665.2 478.4L664.9 476.6L664.5 474.7L664.2 472.8L664.0 471.1L663.8 469.6L663.7 468.0L663.6 466.5L663.5 464.8L663.4 463.1L663.3 461.4L663.2 459.5L663.1 457.5L663.1 455.4L663.0 453.3L663.0 451.3L662.9 449.4L662.8 447.6L662.8 445.7L662.7 443.9L662.7 442.2L662.6 440.8L662.6 439.8L661.3 438.6L658.2 438.6ZM673.0 442.0L673.2 442.8L673.4 443.9L673.6 445.2L673.9 446.7L674.2 448.3L674.4 450.0L674.8 451.8L675.2 453.8L675.7 455.9L676.0 457.9L676.3 459.8L676.4 461.5L676.3 463.2L676.1 464.9L675.8 466.6L675.4 468.4L675.0 470.1L674.5 471.7L674.0 473.2L673.3 474.9L672.6 476.5L671.9 478.0L671.2 479.3L670.8 480.3L671.4 482.0L674.1 483.3L675.8 482.7L676.3 481.8L676.9 480.5L677.7 478.9L678.5 477.1L679.2 475.2L679.9 473.3L680.4 471.5L680.9 469.7L681.3 467.7L681.7 465.7L681.9 463.6L682.0 461.5L681.9 459.2L681.6 457.0L681.2 454.8L680.7 452.7L680.3 450.7L680.0 449.0L679.7 447.4L679.4 445.8L679.1 444.3L678.9 442.9L678.7 441.8L678.6 441.0L677.1 440.0L674.1 440.5Z" fill="#c2d9f0" stroke="#1c3347" stroke-width="2.6" stroke-linejoin="round"/><ellipse cx="669.0" cy="383.2" rx="14.5" ry="11.1" fill="#a8d3f5" stroke="#1c3347" stroke-width="2.2"/><ellipse cx="669.0" cy="489.5" rx="14.5" ry="11.1" fill="#a8d3f5" stroke="#1c3347" stroke-width="2.2"/>
<path d="M698.1 389.3L697.6 389.7L696.8 390.4L695.7 391.3L694.6 392.5L693.4 394.0L692.5 395.7L691.9 397.6L691.4 399.6L691.0 401.7L690.8 403.8L690.5 406.0L690.4 408.2L690.4 410.4L690.4 412.7L690.5 414.9L690.7 417.2L690.9 419.4L691.0 421.5L691.1 423.7L691.3 426.0L691.5 428.3L691.7 430.4L691.8 432.2L691.9 433.5L693.3 434.7L696.3 434.5L697.5 433.1L697.4 431.8L697.2 430.0L697.1 427.9L696.9 425.6L696.7 423.3L696.6 421.1L696.4 419.0L696.3 416.8L696.1 414.6L696.0 412.4L696.0 410.4L696.0 408.4L696.1 406.5L696.3 404.4L696.6 402.5L696.9 400.7L697.3 399.1L697.7 397.9L698.2 397.0L698.8 396.2L699.6 395.4L700.4 394.6L701.3 393.9L701.9 393.3L702.0 391.5L699.9 389.3ZM706.8 392.1L707.0 392.7L707.2 393.5L707.5 394.3L707.7 395.3L708.0 396.3L708.1 397.6L708.2 399.1L708.3 400.9L708.3 403.0L708.3 405.1L708.3 407.2L708.3 409.3L708.3 411.2L708.2 413.2L708.2 415.2L708.1 417.1L708.0 419.1L707.9 421.2L707.8 423.4L707.7 425.8L707.5 428.2L707.4 430.4L707.3 432.4L707.2 433.7L708.4 435.1L711.5 435.3L712.8 434.1L712.9 432.7L713.0 430.8L713.1 428.5L713.3 426.1L713.4 423.7L713.5 421.4L713.6 419.4L713.7 417.4L713.8 415.4L713.8 413.4L713.9 411.3L713.9 409.3L713.9 407.2L713.9 405.1L713.9 402.9L713.9 400.8L713.8 398.8L713.7 397.0L713.5 395.4L713.2 394.0L712.9 392.8L712.6 391.8L712.3 391.1L712.2 390.5L710.6 389.6L707.7 390.5ZM690.5 440.1L690.5 441.1L690.6 442.5L690.6 444.1L690.7 446.0L690.7 447.8L690.8 449.7L690.9 451.6L690.9 453.6L691.0 455.7L691.0 457.8L691.1 459.8L691.2 461.7L691.3 463.5L691.4 465.2L691.5 466.9L691.6 468.6L691.7 470.2L691.9 472.0L692.2 473.8L692.5 475.8L692.9 477.8L693.2 479.5L693.5 481.0L693.8 482.1L695.2 483.2L698.3 482.6L699.2 481.1L699.0 480.0L698.7 478.5L698.4 476.7L698.0 474.8L697.7 472.9L697.5 471.2L697.3 469.7L697.2 468.1L697.1 466.6L697.0 464.9L696.9 463.2L696.8 461.5L696.7 459.6L696.6 457.6L696.6 455.5L696.5 453.4L696.5 451.4L696.4 449.5L696.3 447.7L696.3 445.8L696.2 444.0L696.2 442.3L696.1 440.9L696.1 439.9L694.8 438.7L691.7 438.7ZM706.5 442.1L706.7 442.9L706.9 444.0L707.1 445.3L707.4 446.8L707.7 448.4L707.9 450.1L708.3 451.9L708.7 453.9L709.2 456.0L709.5 458.0L709.8 459.9L709.9 461.6L709.8 463.3L709.6 465.0L709.3 466.7L708.9 468.5L708.5 470.2L708.0 471.8L707.5 473.3L706.8 475.0L706.1 476.6L705.4 478.1L704.7 479.4L704.3 480.4L704.9 482.1L707.6 483.4L709.3 482.8L709.8 481.9L710.4 480.6L711.2 479.0L712.0 477.2L712.7 475.3L713.4 473.4L713.9 471.6L714.4 469.8L714.8 467.8L715.2 465.8L715.4 463.7L715.5 461.6L715.4 459.3L715.1 457.1L714.7 454.9L714.2 452.8L713.8 450.8L713.5 449.1L713.2 447.5L712.9 445.9L712.6 444.4L712.4 443.0L712.2 441.9L712.1 441.1L710.6 440.1L707.6 440.6Z" fill="#c2d9f0" stroke="#1c3347" stroke-width="2.6" stroke-linejoin="round"/><ellipse cx="702.5" cy="383.3" rx="14.5" ry="11.1" fill="#a8d3f5" stroke="#1c3347" stroke-width="2.2"/><ellipse cx="702.5" cy="489.6" rx="14.5" ry="11.1" fill="#a8d3f5" stroke="#1c3347" stroke-width="2.2"/>
<path d="M730.6 389.3L730.1 389.7L729.3 390.4L728.2 391.3L727.1 392.5L725.9 394.0L725.0 395.7L724.4 397.6L723.9 399.6L723.5 401.7L723.3 403.8L723.0 406.0L722.9 408.2L722.9 410.4L722.9 412.7L723.0 414.9L723.2 417.2L723.4 419.4L723.5 421.5L723.6 423.7L723.8 426.0L724.0 428.3L724.2 430.4L724.3 432.2L724.4 433.5L725.8 434.7L728.8 434.5L730.0 433.1L729.9 431.8L729.7 430.0L729.6 427.9L729.4 425.6L729.2 423.3L729.1 421.1L728.9 419.0L728.8 416.8L728.6 414.6L728.5 412.4L728.5 410.4L728.5 408.4L728.6 406.5L728.8 404.4L729.1 402.5L729.4 400.7L729.8 399.1L730.2 397.9L730.7 397.0L731.3 396.2L732.1 395.4L732.9 394.6L733.8 393.9L734.4 393.3L734.5 391.5L732.4 389.3ZM739.3 392.1L739.5 392.7L739.7 393.5L740.0 394.3L740.2 395.3L740.5 396.3L740.6 397.6L740.7 399.1L740.8 400.9L740.8 403.0L740.8 405.1L740.8 407.2L740.8 409.3L740.8 411.2L740.7 413.2L740.7 415.2L740.6 417.1L740.5 419.1L740.4 421.2L740.3 423.4L740.2 425.8L740.0 428.2L739.9 430.4L739.8 432.4L739.7 433.7L740.9 435.1L744.0 435.3L745.3 434.1L745.4 432.7L745.5 430.8L745.6 428.5L745.8 426.1L745.9 423.7L746.0 421.4L746.1 419.4L746.2 417.4L746.3 415.4L746.3 413.4L746.4 411.3L746.4 409.3L746.4 407.2L746.4 405.1L746.4 402.9L746.4 400.8L746.3 398.8L746.2 397.0L746.0 395.4L745.7 394.0L745.4 392.8L745.1 391.8L744.8 391.1L744.7 390.5L743.1 389.6L740.2 390.5ZM723.0 440.1L723.0 441.1L723.1 442.5L723.1 444.1L723.2 446.0L723.2 447.8L723.3 449.7L723.4 451.6L723.4 453.6L723.5 455.7L723.5 457.8L723.6 459.8L723.7 461.7L723.8 463.5L723.9 465.2L724.0 466.9L724.1 468.6L724.2 470.2L724.4 472.0L724.7 473.8L725.0 475.8L725.4 477.8L725.7 479.5L726.0 481.0L726.3 482.1L727.7 483.2L730.8 482.6L731.7 481.1L731.5 480.0L731.2 478.5L730.9 476.7L730.5 474.8L730.2 472.9L730.0 471.2L729.8 469.7L729.7 468.1L729.6 466.6L729.5 464.9L729.4 463.2L729.3 461.5L729.2 459.6L729.1 457.6L729.1 455.5L729.0 453.4L729.0 451.4L728.9 449.5L728.8 447.7L728.8 445.8L728.7 444.0L728.7 442.3L728.6 440.9L728.6 439.9L727.3 438.7L724.2 438.7ZM739.0 442.1L739.2 442.9L739.4 444.0L739.6 445.3L739.9 446.8L740.2 448.4L740.4 450.1L740.8 451.9L741.2 453.9L741.7 456.0L742.0 458.0L742.3 459.9L742.4 461.6L742.3 463.3L742.1 465.0L741.8 466.7L741.4 468.5L741.0 470.2L740.5 471.8L740.0 473.3L739.3 475.0L738.6 476.6L737.9 478.1L737.2 479.4L736.8 480.4L737.4 482.1L740.1 483.4L741.8 482.8L742.3 481.9L742.9 480.6L743.7 479.0L744.5 477.2L745.2 475.3L745.9 473.4L746.4 471.6L746.9 469.8L747.3 467.8L747.7 465.8L747.9 463.7L748.0 461.6L747.9 459.3L747.6 457.1L747.2 454.9L746.7 452.8L746.3 450.8L746.0 449.1L745.7 447.5L745.4 445.9L745.1 444.4L744.9 443.0L744.7 441.9L744.6 441.1L743.1 440.1L740.1 440.6Z" fill="#c2d9f0" stroke="#1c3347" stroke-width="2.6" stroke-linejoin="round"/><ellipse cx="735.0" cy="383.3" rx="14.5" ry="11.1" fill="#a8d3f5" stroke="#1c3347" stroke-width="2.2"/><ellipse cx="735.0" cy="489.6" rx="14.5" ry="11.1" fill="#a8d3f5" stroke="#1c3347" stroke-width="2.2"/>
<path d="M764.4 389.3L763.9 389.7L763.1 390.4L762.0 391.3L760.9 392.5L759.7 394.0L758.8 395.7L758.2 397.6L757.7 399.6L757.3 401.7L757.1 403.8L756.8 406.0L756.7 408.2L756.7 410.4L756.7 412.7L756.8 414.9L757.0 417.2L757.2 419.4L757.3 421.5L757.4 423.7L757.6 426.0L757.8 428.3L758.0 430.4L758.1 432.2L758.2 433.5L759.6 434.7L762.6 434.5L763.8 433.1L763.7 431.8L763.5 430.0L763.4 427.9L763.2 425.6L763.0 423.3L762.9 421.1L762.7 419.0L762.6 416.8L762.4 414.6L762.3 412.4L762.3 410.4L762.3 408.4L762.4 406.5L762.6 404.4L762.9 402.5L763.2 400.7L763.6 399.1L764.0 397.9L764.5 397.0L765.1 396.2L765.9 395.4L766.7 394.6L767.6 393.9L768.2 393.3L768.3 391.5L766.2 389.3ZM773.1 392.1L773.3 392.7L773.5 393.5L773.8 394.3L774.0 395.3L774.3 396.3L774.4 397.6L774.5 399.1L774.6 400.9L774.6 403.0L774.6 405.1L774.6 407.2L774.6 409.3L774.6 411.2L774.5 413.2L774.5 415.2L774.4 417.1L774.3 419.1L774.2 421.2L774.1 423.4L774.0 425.8L773.8 428.2L773.7 430.4L773.6 432.4L773.5 433.7L774.7 435.1L777.8 435.3L779.1 434.1L779.2 432.7L779.3 430.8L779.4 428.5L779.6 426.1L779.7 423.7L779.8 421.4L779.9 419.4L780.0 417.4L780.1 415.4L780.1 413.4L780.2 411.3L780.2 409.3L780.2 407.2L780.2 405.1L780.2 402.9L780.2 400.8L780.1 398.8L780.0 397.0L779.8 395.4L779.5 394.0L779.2 392.8L778.9 391.8L778.6 391.1L778.5 390.5L776.9 389.6L774.0 390.5ZM756.8 440.1L756.8 441.1L756.9 442.5L756.9 444.1L757.0 446.0L757.0 447.8L757.1 449.7L757.2 451.6L757.2 453.6L757.3 455.7L757.3 457.8L757.4 459.8L757.5 461.7L757.6 463.5L757.7 465.2L757.8 466.9L757.9 468.6L758.0 470.2L758.2 472.0L758.5 473.8L758.8 475.8L759.2 477.8L759.5 479.5L759.8 481.0L760.1 482.1L761.5 483.2L764.6 482.6L765.5 481.1L765.3 480.0L765.0 478.5L764.7 476.7L764.3 474.8L764.0 472.9L763.8 471.2L763.6 469.7L763.5 468.1L763.4 466.6L763.3 464.9L763.2 463.2L763.1 461.5L763.0 459.6L762.9 457.6L762.9 455.5L762.8 453.4L762.8 451.4L762.7 449.5L762.6 447.7L762.6 445.8L762.5 444.0L762.5 442.3L762.4 440.9L762.4 439.9L761.1 438.7L758.0 438.7ZM772.8 442.1L773.0 442.9L773.2 444.0L773.4 445.3L773.7 446.8L774.0 448.4L774.2 450.1L774.6 451.9L775.0 453.9L775.5 456.0L775.8 458.0L776.1 459.9L776.2 461.6L776.1 463.3L775.9 465.0L775.6 466.7L775.2 468.5L774.8 470.2L774.3 471.8L773.8 473.3L773.1 475.0L772.4 476.6L771.7 478.1L771.0 479.4L770.6 480.4L771.2 482.1L773.9 483.4L775.6 482.8L776.1 481.9L776.7 480.6L777.5 479.0L778.3 477.2L779.0 475.3L779.7 473.4L780.2 471.6L780.7 469.8L781.1 467.8L781.5 465.8L781.7 463.7L781.8 461.6L781.7 459.3L781.4 457.1L781.0 454.9L780.5 452.8L780.1 450.8L779.8 449.1L779.5 447.5L779.2 445.9L778.9 444.4L778.7 443.0L778.5 441.9L778.4 441.1L776.9 440.1L773.9 440.6Z" fill="#c2d9f0" stroke="#1c3347" stroke-width="2.6" stroke-linejoin="round"/><ellipse cx="768.8" cy="383.3" rx="14.5" ry="11.1" fill="#a8d3f5" stroke="#1c3347" stroke-width="2.2"/><ellipse cx="768.8" cy="489.6" rx="14.5" ry="11.1" fill="#a8d3f5" stroke="#1c3347" stroke-width="2.2"/>
<path d="M799.1 389.3L798.6 389.7L797.8 390.4L796.7 391.3L795.6 392.5L794.4 394.0L793.5 395.7L792.9 397.6L792.4 399.6L792.0 401.7L791.8 403.8L791.5 406.0L791.4 408.2L791.4 410.4L791.4 412.7L791.5 414.9L791.7 417.2L791.9 419.4L792.0 421.5L792.1 423.7L792.3 426.0L792.5 428.3L792.7 430.4L792.8 432.2L792.9 433.5L794.3 434.7L797.3 434.5L798.5 433.1L798.4 431.8L798.2 430.0L798.1 427.9L797.9 425.6L797.7 423.3L797.6 421.1L797.4 419.0L797.3 416.8L797.1 414.6L797.0 412.4L797.0 410.4L797.0 408.4L797.1 406.5L797.3 404.4L797.6 402.5L797.9 400.7L798.3 399.1L798.7 397.9L799.2 397.0L799.8 396.2L800.6 395.4L801.4 394.6L802.3 393.9L802.9 393.3L803.0 391.5L800.9 389.3ZM807.8 392.1L808.0 392.7L808.2 393.5L808.5 394.3L808.7 395.3L809.0 396.3L809.1 397.6L809.2 399.1L809.3 400.9L809.3 403.0L809.3 405.1L809.3 407.2L809.3 409.3L809.3 411.2L809.2 413.2L809.2 415.2L809.1 417.1L809.0 419.1L808.9 421.2L808.8 423.4L808.7 425.8L808.5 428.2L808.4 430.4L808.3 432.4L808.2 433.7L809.4 435.1L812.5 435.3L813.8 434.1L813.9 432.7L814.0 430.8L814.1 428.5L814.3 426.1L814.4 423.7L814.5 421.4L814.6 419.4L814.7 417.4L814.8 415.4L814.8 413.4L814.9 411.3L814.9 409.3L814.9 407.2L814.9 405.1L814.9 402.9L814.9 400.8L814.8 398.8L814.7 397.0L814.5 395.4L814.2 394.0L813.9 392.8L813.6 391.8L813.3 391.1L813.2 390.5L811.6 389.6L808.7 390.5ZM791.5 440.1L791.5 441.1L791.6 442.5L791.6 444.1L791.7 446.0L791.7 447.8L791.8 449.7L791.9 451.6L791.9 453.6L792.0 455.7L792.0 457.8L792.1 459.8L792.2 461.7L792.3 463.5L792.4 465.2L792.5 466.9L792.6 468.6L792.7 470.2L792.9 472.0L793.2 473.8L793.5 475.8L793.9 477.8L794.2 479.5L794.5 481.0L794.8 482.1L796.2 483.2L799.3 482.6L800.2 481.1L800.0 480.0L799.7 478.5L799.4 476.7L799.0 474.8L798.7 472.9L798.5 471.2L798.3 469.7L798.2 468.1L798.1 466.6L798.0 464.9L797.9 463.2L797.8 461.5L797.7 459.6L797.6 457.6L797.6 455.5L797.5 453.4L797.5 451.4L797.4 449.5L797.3 447.7L797.3 445.8L797.2 444.0L797.2 442.3L797.1 440.9L797.1 439.9L795.8 438.7L792.7 438.7ZM807.5 442.1L807.7 442.9L807.9 444.0L808.1 445.3L808.4 446.8L808.7 448.4L808.9 450.1L809.3 451.9L809.7 453.9L810.2 456.0L810.5 458.0L810.8 459.9L810.9 461.6L810.8 463.3L810.6 465.0L810.3 466.7L809.9 468.5L809.5 470.2L809.0 471.8L808.5 473.3L807.8 475.0L807.1 476.6L806.4 478.1L805.7 479.4L805.3 480.4L805.9 482.1L808.6 483.4L810.3 482.8L810.8 481.9L811.4 480.6L812.2 479.0L813.0 477.2L813.7 475.3L814.4 473.4L814.9 471.6L815.4 469.8L815.8 467.8L816.2 465.8L816.4 463.7L816.5 461.6L816.4 459.3L816.1 457.1L815.7 454.9L815.2 452.8L814.8 450.8L814.5 449.1L814.2 447.5L813.9 445.9L813.6 444.4L813.4 443.0L813.2 441.9L813.1 441.1L811.6 440.1L808.6 440.6Z" fill="#c2d9f0" stroke="#1c3347" stroke-width="2.6" stroke-linejoin="round"/><ellipse cx="803.5" cy="383.3" rx="14.5" ry="11.1" fill="#a8d3f5" stroke="#1c3347" stroke-width="2.2"/><ellipse cx="803.5" cy="489.6" rx="14.5" ry="11.1" fill="#a8d3f5" stroke="#1c3347" stroke-width="2.2"/>
<path d="M832.4 389.4L831.9 389.8L831.1 390.5L830.0 391.4L828.9 392.6L827.7 394.1L826.8 395.8L826.2 397.7L825.7 399.7L825.3 401.8L825.1 403.9L824.8 406.1L824.7 408.3L824.7 410.5L824.7 412.8L824.8 415.0L825.0 417.3L825.2 419.5L825.3 421.6L825.4 423.8L825.6 426.1L825.8 428.4L826.0 430.5L826.1 432.3L826.2 433.6L827.6 434.8L830.6 434.6L831.8 433.2L831.7 431.9L831.5 430.1L831.4 428.0L831.2 425.7L831.0 423.4L830.9 421.2L830.7 419.1L830.6 416.9L830.4 414.7L830.3 412.5L830.3 410.5L830.3 408.5L830.4 406.6L830.6 404.5L830.9 402.6L831.2 400.8L831.6 399.2L832.0 398.0L832.5 397.1L833.1 396.3L833.9 395.5L834.7 394.7L835.6 394.0L836.2 393.4L836.3 391.6L834.2 389.4ZM841.1 392.2L841.3 392.8L841.5 393.6L841.8 394.4L842.0 395.4L842.3 396.4L842.4 397.7L842.5 399.2L842.6 401.0L842.6 403.1L842.6 405.2L842.6 407.3L842.6 409.4L842.6 411.3L842.5 413.3L842.5 415.3L842.4 417.2L842.3 419.2L842.2 421.3L842.1 423.5L842.0 425.9L841.8 428.3L841.7 430.5L841.6 432.5L841.5 433.8L842.7 435.2L845.8 435.4L847.1 434.2L847.2 432.8L847.3 430.9L847.4 428.6L847.6 426.2L847.7 423.8L847.8 421.5L847.9 419.5L848.0 417.5L848.1 415.5L848.1 413.5L848.2 411.4L848.2 409.4L848.2 407.3L848.2 405.2L848.2 403.0L848.2 400.9L848.1 398.9L848.0 397.1L847.8 395.5L847.5 394.1L847.2 392.9L846.9 391.9L846.6 391.2L846.5 390.6L844.9 389.7L842.0 390.6ZM824.8 440.2L824.8 441.2L824.9 442.6L824.9 444.2L825.0 446.1L825.0 447.9L825.1 449.8L825.2 451.7L825.2 453.7L825.3 455.8L825.3 457.9L825.4 459.9L825.5 461.8L825.6 463.6L825.7 465.3L825.8 467.0L825.9 468.7L826.0 470.3L826.2 472.1L826.5 473.9L826.8 475.9L827.2 477.9L827.5 479.6L827.8 481.1L828.1 482.2L829.5 483.3L832.6 482.7L833.5 481.2L833.3 480.1L833.0 478.6L832.7 476.8L832.3 474.9L832.0 473.0L831.8 471.3L831.6 469.8L831.5 468.2L831.4 466.7L831.3 465.0L831.2 463.3L831.1 461.6L831.0 459.7L830.9 457.7L830.9 455.6L830.8 453.5L830.8 451.5L830.7 449.6L830.6 447.8L830.6 445.9L830.5 444.1L830.5 442.4L830.4 441.0L830.4 440.0L829.1 438.8L826.0 438.8ZM840.8 442.2L841.0 443.0L841.2 444.1L841.4 445.4L841.7 446.9L842.0 448.5L842.2 450.2L842.6 452.0L843.0 454.0L843.5 456.1L843.8 458.1L844.1 460.0L844.2 461.7L844.1 463.4L843.9 465.1L843.6 466.8L843.2 468.6L842.8 470.3L842.3 471.9L841.8 473.4L841.1 475.1L840.4 476.7L839.7 478.2L839.0 479.5L838.6 480.5L839.2 482.2L841.9 483.5L843.6 482.9L844.1 482.0L844.7 480.7L845.5 479.1L846.3 477.3L847.0 475.4L847.7 473.5L848.2 471.7L848.7 469.9L849.1 467.9L849.5 465.9L849.7 463.8L849.8 461.7L849.7 459.4L849.4 457.2L849.0 455.0L848.5 452.9L848.1 450.9L847.8 449.2L847.5 447.6L847.2 446.0L846.9 444.5L846.7 443.1L846.5 442.0L846.4 441.2L844.9 440.2L841.9 440.7Z" fill="#c2d9f0" stroke="#1c3347" stroke-width="2.6" stroke-linejoin="round"/><ellipse cx="836.8" cy="383.4" rx="14.5" ry="11.1" fill="#a8d3f5" stroke="#1c3347" stroke-width="2.2"/><ellipse cx="836.8" cy="489.7" rx="14.5" ry="11.1" fill="#a8d3f5" stroke="#1c3347" stroke-width="2.2"/>
<path d="M866.1 389.5L865.6 389.9L864.8 390.6L863.7 391.5L862.6 392.7L861.4 394.2L860.5 395.9L859.9 397.8L859.4 399.8L859.0 401.9L858.8 404.0L858.5 406.2L858.4 408.4L858.4 410.6L858.4 412.9L858.5 415.1L858.7 417.4L858.9 419.6L859.0 421.7L859.1 423.9L859.3 426.2L859.5 428.5L859.7 430.6L859.8 432.4L859.9 433.7L861.3 434.9L864.3 434.7L865.5 433.3L865.4 432.0L865.2 430.2L865.1 428.1L864.9 425.8L864.7 423.5L864.6 421.3L864.4 419.2L864.3 417.0L864.1 414.8L864.0 412.6L864.0 410.6L864.0 408.6L864.1 406.7L864.3 404.6L864.6 402.7L864.9 400.9L865.3 399.3L865.7 398.1L866.2 397.2L866.8 396.4L867.6 395.6L868.4 394.8L869.3 394.1L869.9 393.5L870.0 391.7L867.9 389.5ZM874.8 392.3L875.0 392.9L875.2 393.7L875.5 394.5L875.7 395.5L876.0 396.5L876.1 397.8L876.2 399.3L876.3 401.1L876.3 403.2L876.3 405.3L876.3 407.4L876.3 409.5L876.3 411.4L876.2 413.4L876.2 415.4L876.1 417.3L876.0 419.3L875.9 421.4L875.8 423.6L875.7 426.0L875.5 428.4L875.4 430.6L875.3 432.6L875.2 433.9L876.4 435.3L879.5 435.5L880.8 434.3L880.9 432.9L881.0 431.0L881.1 428.7L881.3 426.3L881.4 423.9L881.5 421.6L881.6 419.6L881.7 417.6L881.8 415.6L881.8 413.6L881.9 411.5L881.9 409.5L881.9 407.4L881.9 405.3L881.9 403.1L881.9 401.0L881.8 399.0L881.7 397.2L881.5 395.6L881.2 394.2L880.9 393.0L880.6 392.0L880.3 391.3L880.2 390.7L878.6 389.8L875.7 390.7ZM858.5 440.3L858.5 441.3L858.6 442.7L858.6 444.3L858.7 446.2L858.7 448.0L858.8 449.9L858.9 451.8L858.9 453.8L859.0 455.9L859.0 458.0L859.1 460.0L859.2 461.9L859.3 463.7L859.4 465.4L859.5 467.1L859.6 468.8L859.7 470.4L859.9 472.2L860.2 474.0L860.5 476.0L860.9 478.0L861.2 479.7L861.5 481.2L861.8 482.3L863.2 483.4L866.3 482.8L867.2 481.3L867.0 480.2L866.7 478.7L866.4 476.9L866.0 475.0L865.7 473.1L865.5 471.4L865.3 469.9L865.2 468.3L865.1 466.8L865.0 465.1L864.9 463.4L864.8 461.7L864.7 459.8L864.6 457.8L864.6 455.7L864.5 453.6L864.5 451.6L864.4 449.7L864.3 447.9L864.3 446.0L864.2 444.2L864.2 442.5L864.1 441.1L864.1 440.1L862.8 438.9L859.7 438.9ZM874.5 442.3L874.7 443.1L874.9 444.2L875.1 445.5L875.4 447.0L875.7 448.6L875.9 450.3L876.3 452.1L876.7 454.1L877.2 456.2L877.5 458.2L877.8 460.1L877.9 461.8L877.8 463.5L877.6 465.2L877.3 466.9L876.9 468.7L876.5 470.4L876.0 472.0L875.5 473.5L874.8 475.2L874.1 476.8L873.4 478.3L872.7 479.6L872.3 480.6L872.9 482.3L875.6 483.6L877.3 483.0L877.8 482.1L878.4 480.8L879.2 479.2L880.0 477.4L880.7 475.5L881.4 473.6L881.9 471.8L882.4 470.0L882.8 468.0L883.2 466.0L883.4 463.9L883.5 461.8L883.4 459.5L883.1 457.3L882.7 455.1L882.2 453.0L881.8 451.0L881.5 449.3L881.2 447.7L880.9 446.1L880.6 444.6L880.4 443.2L880.2 442.1L880.1 441.3L878.6 440.3L875.6 440.8Z" fill="#c2d9f0" stroke="#1c3347" stroke-width="2.6" stroke-linejoin="round"/><ellipse cx="870.5" cy="383.5" rx="14.5" ry="11.1" fill="#a8d3f5" stroke="#1c3347" stroke-width="2.2"/><ellipse cx="870.5" cy="489.8" rx="14.5" ry="11.1" fill="#a8d3f5" stroke="#1c3347" stroke-width="2.2"/>
<path d="M899.9 390.3L899.4 390.7L898.6 391.4L897.5 392.3L896.4 393.5L895.2 395.0L894.3 396.7L893.7 398.6L893.2 400.6L892.8 402.7L892.6 404.8L892.3 407.0L892.2 409.2L892.2 411.4L892.2 413.7L892.3 415.9L892.5 418.2L892.7 420.4L892.8 422.5L892.9 424.7L893.1 427.0L893.3 429.3L893.5 431.4L893.6 433.2L893.7 434.5L895.1 435.7L898.1 435.5L899.3 434.1L899.2 432.8L899.0 431.0L898.9 428.9L898.7 426.6L898.5 424.3L898.4 422.1L898.2 420.0L898.1 417.8L897.9 415.6L897.8 413.4L897.8 411.4L897.8 409.4L897.9 407.5L898.1 405.4L898.4 403.5L898.7 401.7L899.1 400.1L899.5 398.9L900.0 398.0L900.6 397.2L901.4 396.4L902.2 395.6L903.1 394.9L903.7 394.3L903.8 392.5L901.7 390.3ZM908.6 393.1L908.8 393.7L909.0 394.5L909.3 395.3L909.5 396.3L909.8 397.3L909.9 398.6L910.0 400.1L910.1 401.9L910.1 404.0L910.1 406.1L910.1 408.2L910.1 410.3L910.1 412.2L910.0 414.2L910.0 416.2L909.9 418.1L909.8 420.1L909.7 422.2L909.6 424.4L909.5 426.8L909.3 429.2L909.2 431.4L909.1 433.4L909.0 434.7L910.2 436.1L913.3 436.3L914.6 435.1L914.7 433.7L914.8 431.8L914.9 429.5L915.1 427.1L915.2 424.7L915.3 422.4L915.4 420.4L915.5 418.4L915.6 416.4L915.6 414.4L915.7 412.3L915.7 410.3L915.7 408.2L915.7 406.1L915.7 403.9L915.7 401.8L915.6 399.8L915.5 398.0L915.3 396.4L915.0 395.0L914.7 393.8L914.4 392.8L914.1 392.1L914.0 391.5L912.4 390.6L909.5 391.5ZM892.3 441.1L892.3 442.1L892.4 443.5L892.4 445.1L892.5 447.0L892.5 448.8L892.6 450.7L892.7 452.6L892.7 454.6L892.8 456.7L892.8 458.8L892.9 460.8L893.0 462.7L893.1 464.5L893.2 466.2L893.3 467.9L893.4 469.6L893.5 471.2L893.7 473.0L894.0 474.8L894.3 476.8L894.7 478.8L895.0 480.5L895.3 482.0L895.6 483.1L897.0 484.2L900.1 483.6L901.0 482.1L900.8 481.0L900.5 479.5L900.2 477.7L899.8 475.8L899.5 473.9L899.3 472.2L899.1 470.7L899.0 469.1L898.9 467.6L898.8 465.9L898.7 464.2L898.6 462.5L898.5 460.6L898.4 458.6L898.4 456.5L898.3 454.4L898.3 452.4L898.2 450.5L898.1 448.7L898.1 446.8L898.0 445.0L898.0 443.3L897.9 441.9L897.9 440.9L896.6 439.7L893.5 439.7ZM908.3 443.1L908.5 443.9L908.7 445.0L908.9 446.3L909.2 447.8L909.5 449.4L909.7 451.1L910.1 452.9L910.5 454.9L911.0 457.0L911.3 459.0L911.6 460.9L911.7 462.6L911.6 464.3L911.4 466.0L911.1 467.7L910.7 469.5L910.3 471.2L909.8 472.8L909.3 474.3L908.6 476.0L907.9 477.6L907.2 479.1L906.5 480.4L906.1 481.4L906.7 483.1L909.4 484.4L911.1 483.8L911.6 482.9L912.2 481.6L913.0 480.0L913.8 478.2L914.5 476.3L915.2 474.4L915.7 472.6L916.2 470.8L916.6 468.8L917.0 466.8L917.2 464.7L917.3 462.6L917.2 460.3L916.9 458.1L916.5 455.9L916.0 453.8L915.6 451.8L915.3 450.1L915.0 448.5L914.7 446.9L914.4 445.4L914.2 444.0L914.0 442.9L913.9 442.1L912.4 441.1L909.4 441.6Z" fill="#c2d9f0" stroke="#1c3347" stroke-width="2.6" stroke-linejoin="round"/><ellipse cx="904.3" cy="384.3" rx="14.5" ry="11.1" fill="#a8d3f5" stroke="#1c3347" stroke-width="2.2"/><ellipse cx="904.3" cy="490.6" rx="14.5" ry="11.1" fill="#a8d3f5" stroke="#1c3347" stroke-width="2.2"/>
<path d="M933.8 395.0L933.3 395.4L932.6 396.1L931.5 397.0L930.3 398.2L929.2 399.7L928.3 401.4L927.6 403.3L927.2 405.3L926.8 407.4L926.5 409.5L926.3 411.7L926.2 413.9L926.1 416.1L926.2 418.4L926.3 420.6L926.4 422.9L926.6 425.1L926.8 427.2L926.9 429.4L927.1 431.7L927.2 434.0L927.4 436.1L927.6 437.9L927.7 439.2L929.0 440.4L932.1 440.2L933.2 438.8L933.1 437.5L933.0 435.7L932.8 433.6L932.7 431.3L932.5 429.0L932.3 426.8L932.2 424.7L932.0 422.5L931.9 420.3L931.8 418.1L931.7 416.1L931.7 414.1L931.9 412.2L932.1 410.1L932.3 408.2L932.6 406.4L933.0 404.8L933.4 403.6L933.9 402.7L934.6 401.9L935.3 401.1L936.2 400.3L937.0 399.6L937.7 399.0L937.8 397.2L935.7 395.0ZM942.6 397.8L942.7 398.4L943.0 399.2L943.2 400.0L943.5 401.0L943.7 402.0L943.9 403.3L944.0 404.8L944.0 406.6L944.1 408.7L944.1 410.8L944.1 412.9L944.1 415.0L944.0 416.9L944.0 418.9L943.9 420.9L943.8 422.8L943.7 424.8L943.7 426.9L943.5 429.1L943.4 431.5L943.3 433.9L943.1 436.1L943.0 438.1L943.0 439.4L944.1 440.8L947.2 441.0L948.5 439.8L948.6 438.4L948.7 436.5L948.9 434.2L949.0 431.8L949.1 429.4L949.2 427.1L949.3 425.1L949.4 423.1L949.5 421.1L949.6 419.1L949.6 417.0L949.6 415.0L949.7 412.9L949.7 410.8L949.7 408.6L949.6 406.5L949.6 404.5L949.4 402.7L949.2 401.1L949.0 399.7L948.6 398.5L948.3 397.5L948.1 396.8L947.9 396.2L946.4 395.3L943.4 396.2ZM926.3 445.8L926.3 446.8L926.3 448.2L926.4 449.8L926.4 451.7L926.5 453.5L926.6 455.4L926.6 457.3L926.7 459.3L926.7 461.4L926.8 463.5L926.9 465.5L927.0 467.4L927.0 469.2L927.1 470.9L927.2 472.6L927.3 474.3L927.5 475.9L927.7 477.7L927.9 479.5L928.3 481.5L928.6 483.5L929.0 485.2L929.3 486.7L929.5 487.8L931.0 488.9L934.0 488.3L935.0 486.8L934.8 485.7L934.5 484.2L934.1 482.4L933.8 480.5L933.5 478.6L933.2 476.9L933.1 475.4L932.9 473.8L932.8 472.3L932.7 470.6L932.6 468.9L932.5 467.2L932.5 465.3L932.4 463.3L932.3 461.2L932.3 459.1L932.2 457.1L932.1 455.2L932.1 453.4L932.0 451.5L932.0 449.7L931.9 448.0L931.9 446.6L931.8 445.6L930.5 444.4L927.5 444.4ZM942.3 447.8L942.4 448.6L942.6 449.7L942.9 451.0L943.1 452.5L943.4 454.1L943.7 455.8L944.1 457.6L944.5 459.6L944.9 461.7L945.3 463.7L945.6 465.6L945.7 467.3L945.6 469.0L945.4 470.7L945.1 472.4L944.7 474.2L944.2 475.9L943.8 477.5L943.2 479.0L942.6 480.7L941.8 482.3L941.1 483.8L940.5 485.1L940.0 486.1L940.6 487.8L943.4 489.1L945.1 488.5L945.5 487.6L946.2 486.3L946.9 484.7L947.7 482.9L948.5 481.0L949.1 479.1L949.6 477.3L950.1 475.5L950.6 473.5L950.9 471.5L951.2 469.4L951.2 467.3L951.1 465.0L950.8 462.8L950.4 460.6L950.0 458.5L949.5 456.5L949.2 454.8L948.9 453.2L948.6 451.6L948.4 450.1L948.1 448.7L948.0 447.6L947.8 446.8L946.3 445.8L943.3 446.3Z" fill="#c2d9f0" stroke="#1c3347" stroke-width="2.6" stroke-linejoin="round"/><ellipse cx="938.2" cy="389.0" rx="14.5" ry="11.1" fill="#a8d3f5" stroke="#1c3347" stroke-width="2.2"/><ellipse cx="938.2" cy="495.3" rx="14.5" ry="11.1" fill="#a8d3f5" stroke="#1c3347" stroke-width="2.2"/>
<path d="M966.8 404.2L966.3 404.7L965.5 405.3L964.4 406.2L963.3 407.4L962.1 408.9L961.2 410.7L960.6 412.5L960.1 414.5L959.7 416.6L959.5 418.8L959.2 421.0L959.1 423.1L959.1 425.3L959.1 427.6L959.2 429.9L959.4 432.1L959.6 434.3L959.7 436.4L959.8 438.6L960.0 441.0L960.2 443.3L960.4 445.4L960.5 447.2L960.6 448.5L962.0 449.7L965.0 449.4L966.2 448.0L966.1 446.7L965.9 445.0L965.8 442.8L965.6 440.6L965.4 438.3L965.3 436.1L965.1 433.9L965.0 431.7L964.8 429.5L964.7 427.4L964.7 425.3L964.7 423.4L964.8 421.4L965.0 419.4L965.3 417.5L965.6 415.7L966.0 414.1L966.4 412.8L966.9 411.9L967.5 411.1L968.3 410.3L969.1 409.6L970.0 408.9L970.6 408.3L970.7 406.5L968.6 404.2ZM975.5 407.0L975.7 407.7L975.9 408.4L976.2 409.3L976.4 410.2L976.7 411.3L976.8 412.5L976.9 414.0L977.0 415.9L977.0 417.9L977.0 420.0L977.0 422.2L977.0 424.2L977.0 426.2L976.9 428.1L976.9 430.1L976.8 432.1L976.7 434.1L976.6 436.1L976.5 438.3L976.4 440.7L976.2 443.1L976.1 445.4L976.0 447.3L975.9 448.7L977.1 450.1L980.2 450.2L981.5 449.0L981.6 447.6L981.7 445.7L981.8 443.5L982.0 441.0L982.1 438.6L982.2 436.4L982.3 434.3L982.4 432.3L982.5 430.3L982.5 428.3L982.6 426.3L982.6 424.3L982.6 422.2L982.6 420.0L982.6 417.8L982.6 415.7L982.5 413.8L982.4 412.0L982.2 410.4L981.9 409.0L981.6 407.7L981.3 406.7L981.0 406.0L980.9 405.5L979.3 404.6L976.4 405.4ZM959.2 455.0L959.2 456.1L959.3 457.4L959.3 459.1L959.4 460.9L959.4 462.8L959.5 464.6L959.6 466.5L959.6 468.5L959.7 470.6L959.7 472.7L959.8 474.8L959.9 476.7L960.0 478.5L960.1 480.2L960.2 481.8L960.3 483.5L960.4 485.2L960.6 486.9L960.9 488.8L961.2 490.7L961.6 492.7L961.9 494.5L962.2 496.0L962.5 497.1L963.9 498.1L967.0 497.5L967.9 496.0L967.7 494.9L967.4 493.4L967.1 491.6L966.7 489.8L966.4 487.9L966.2 486.2L966.0 484.6L965.9 483.1L965.8 481.5L965.7 479.9L965.6 478.2L965.5 476.4L965.4 474.5L965.3 472.5L965.3 470.4L965.2 468.4L965.2 466.4L965.1 464.5L965.0 462.6L965.0 460.7L964.9 458.9L964.9 457.3L964.8 455.9L964.8 454.9L963.5 453.6L960.4 453.7ZM975.2 457.0L975.4 457.9L975.6 459.0L975.8 460.3L976.1 461.8L976.4 463.4L976.6 465.1L977.0 466.9L977.4 468.9L977.9 470.9L978.2 472.9L978.5 474.8L978.6 476.6L978.5 478.2L978.3 480.0L978.0 481.7L977.6 483.4L977.2 485.1L976.7 486.7L976.2 488.3L975.5 489.9L974.8 491.6L974.1 493.1L973.4 494.4L973.0 495.4L973.6 497.1L976.3 498.4L978.0 497.7L978.5 496.8L979.1 495.5L979.9 493.9L980.7 492.1L981.4 490.3L982.1 488.4L982.6 486.6L983.1 484.7L983.5 482.8L983.9 480.8L984.1 478.7L984.2 476.5L984.1 474.3L983.8 472.0L983.4 469.8L982.9 467.7L982.5 465.8L982.2 464.0L981.9 462.4L981.6 460.8L981.3 459.3L981.1 458.0L980.9 456.9L980.8 456.1L979.3 455.0L976.3 455.5Z" fill="#c2d9f0" stroke="#1c3347" stroke-width="2.6" stroke-linejoin="round"/><ellipse cx="971.2" cy="398.2" rx="14.5" ry="11.1" fill="#a8d3f5" stroke="#1c3347" stroke-width="2.2"/><ellipse cx="971.2" cy="504.6" rx="14.5" ry="11.1" fill="#a8d3f5" stroke="#1c3347" stroke-width="2.2"/>
<path d="M1000.0 417.2L999.5 417.6L998.7 418.3L997.6 419.2L996.5 420.4L995.3 421.9L994.4 423.6L993.8 425.5L993.3 427.5L992.9 429.6L992.7 431.7L992.4 433.9L992.3 436.1L992.3 438.3L992.3 440.6L992.4 442.8L992.6 445.1L992.8 447.3L992.9 449.4L993.0 451.6L993.2 453.9L993.4 456.2L993.6 458.3L993.7 460.1L993.8 461.4L995.2 462.6L998.2 462.4L999.4 461.0L999.3 459.7L999.1 457.9L999.0 455.8L998.8 453.5L998.6 451.2L998.5 449.0L998.3 446.9L998.2 444.7L998.0 442.5L997.9 440.3L997.9 438.3L997.9 436.3L998.0 434.4L998.2 432.3L998.5 430.4L998.8 428.6L999.2 427.0L999.6 425.8L1000.1 424.9L1000.7 424.1L1001.5 423.3L1002.3 422.5L1003.2 421.8L1003.8 421.2L1003.9 419.4L1001.8 417.2ZM1008.7 420.0L1008.9 420.6L1009.1 421.4L1009.4 422.2L1009.6 423.2L1009.9 424.2L1010.0 425.5L1010.1 427.0L1010.2 428.8L1010.2 430.9L1010.2 433.0L1010.2 435.1L1010.2 437.2L1010.2 439.1L1010.1 441.1L1010.1 443.1L1010.0 445.0L1009.9 447.0L1009.8 449.1L1009.7 451.3L1009.6 453.7L1009.4 456.1L1009.3 458.3L1009.2 460.3L1009.1 461.6L1010.3 463.0L1013.4 463.2L1014.7 462.0L1014.8 460.6L1014.9 458.7L1015.0 456.4L1015.2 454.0L1015.3 451.6L1015.4 449.3L1015.5 447.3L1015.6 445.3L1015.7 443.3L1015.7 441.3L1015.8 439.2L1015.8 437.2L1015.8 435.1L1015.8 433.0L1015.8 430.8L1015.8 428.7L1015.7 426.7L1015.6 424.9L1015.4 423.3L1015.1 421.9L1014.8 420.7L1014.5 419.7L1014.2 419.0L1014.1 418.4L1012.5 417.5L1009.6 418.4ZM992.4 468.0L992.4 469.0L992.5 470.4L992.5 472.0L992.6 473.9L992.6 475.7L992.7 477.6L992.8 479.5L992.8 481.5L992.9 483.6L992.9 485.7L993.0 487.7L993.1 489.6L993.2 491.4L993.3 493.1L993.4 494.8L993.5 496.5L993.6 498.1L993.8 499.9L994.1 501.7L994.4 503.7L994.8 505.7L995.1 507.4L995.4 508.9L995.7 510.0L997.1 511.1L1000.2 510.5L1001.1 509.0L1000.9 507.9L1000.6 506.4L1000.3 504.6L999.9 502.7L999.6 500.8L999.4 499.1L999.2 497.6L999.1 496.0L999.0 494.5L998.9 492.8L998.8 491.1L998.7 489.4L998.6 487.5L998.5 485.5L998.5 483.4L998.4 481.3L998.4 479.3L998.3 477.4L998.2 475.6L998.2 473.7L998.1 471.9L998.1 470.2L998.0 468.8L998.0 467.8L996.7 466.6L993.6 466.6ZM1008.4 470.0L1008.6 470.8L1008.8 471.9L1009.0 473.2L1009.3 474.7L1009.6 476.3L1009.8 478.0L1010.2 479.8L1010.6 481.8L1011.1 483.9L1011.4 485.9L1011.7 487.8L1011.8 489.5L1011.7 491.2L1011.5 492.9L1011.2 494.6L1010.8 496.4L1010.4 498.1L1009.9 499.7L1009.4 501.2L1008.7 502.9L1008.0 504.5L1007.3 506.0L1006.6 507.3L1006.2 508.3L1006.8 510.0L1009.5 511.3L1011.2 510.7L1011.7 509.8L1012.3 508.5L1013.1 506.9L1013.9 505.1L1014.6 503.2L1015.3 501.3L1015.8 499.5L1016.3 497.7L1016.7 495.7L1017.1 493.7L1017.3 491.6L1017.4 489.5L1017.3 487.2L1017.0 485.0L1016.6 482.8L1016.1 480.7L1015.7 478.7L1015.4 477.0L1015.1 475.4L1014.8 473.8L1014.5 472.3L1014.3 470.9L1014.1 469.8L1014.0 469.0L1012.5 468.0L1009.5 468.5Z" fill="#c2d9f0" stroke="#1c3347" stroke-width="2.6" stroke-linejoin="round"/><ellipse cx="1004.4" cy="411.2" rx="14.5" ry="11.1" fill="#a8d3f5" stroke="#1c3347" stroke-width="2.2"/><ellipse cx="1004.4" cy="517.5" rx="14.5" ry="11.1" fill="#a8d3f5" stroke="#1c3347" stroke-width="2.2"/>
<path d="M1033.8 430.7L1033.3 431.1L1032.5 431.8L1031.4 432.7L1030.3 433.9L1029.1 435.4L1028.2 437.1L1027.6 439.0L1027.1 441.0L1026.7 443.1L1026.5 445.2L1026.2 447.4L1026.1 449.6L1026.1 451.8L1026.1 454.1L1026.2 456.3L1026.4 458.6L1026.6 460.8L1026.7 462.9L1026.8 465.1L1027.0 467.4L1027.2 469.7L1027.4 471.8L1027.5 473.6L1027.6 474.9L1029.0 476.1L1032.0 475.9L1033.2 474.5L1033.1 473.2L1032.9 471.4L1032.8 469.3L1032.6 467.0L1032.4 464.7L1032.3 462.5L1032.1 460.4L1032.0 458.2L1031.8 456.0L1031.7 453.8L1031.7 451.8L1031.7 449.8L1031.8 447.9L1032.0 445.8L1032.3 443.9L1032.6 442.1L1033.0 440.5L1033.4 439.3L1033.9 438.4L1034.5 437.6L1035.3 436.8L1036.1 436.0L1037.0 435.3L1037.6 434.7L1037.7 432.9L1035.6 430.7ZM1042.5 433.5L1042.7 434.1L1042.9 434.9L1043.2 435.7L1043.4 436.7L1043.7 437.7L1043.8 439.0L1043.9 440.5L1044.0 442.3L1044.0 444.4L1044.0 446.5L1044.0 448.6L1044.0 450.7L1044.0 452.6L1043.9 454.6L1043.9 456.6L1043.8 458.5L1043.7 460.5L1043.6 462.6L1043.5 464.8L1043.4 467.2L1043.2 469.6L1043.1 471.8L1043.0 473.8L1042.9 475.1L1044.1 476.5L1047.2 476.7L1048.5 475.5L1048.6 474.1L1048.7 472.2L1048.8 469.9L1049.0 467.5L1049.1 465.1L1049.2 462.8L1049.3 460.8L1049.4 458.8L1049.5 456.8L1049.5 454.8L1049.6 452.7L1049.6 450.7L1049.6 448.6L1049.6 446.5L1049.6 444.3L1049.6 442.2L1049.5 440.2L1049.4 438.4L1049.2 436.8L1048.9 435.4L1048.6 434.2L1048.3 433.2L1048.0 432.5L1047.9 431.9L1046.3 431.0L1043.4 431.9ZM1026.2 481.5L1026.2 482.5L1026.3 483.9L1026.3 485.5L1026.4 487.4L1026.4 489.2L1026.5 491.1L1026.6 493.0L1026.6 495.0L1026.7 497.1L1026.7 499.2L1026.8 501.2L1026.9 503.1L1027.0 504.9L1027.1 506.6L1027.2 508.3L1027.3 510.0L1027.4 511.6L1027.6 513.4L1027.9 515.2L1028.2 517.2L1028.6 519.2L1028.9 520.9L1029.2 522.4L1029.5 523.5L1030.9 524.6L1034.0 524.0L1034.9 522.5L1034.7 521.4L1034.4 519.9L1034.1 518.1L1033.7 516.2L1033.4 514.3L1033.2 512.6L1033.0 511.1L1032.9 509.5L1032.8 508.0L1032.7 506.3L1032.6 504.6L1032.5 502.9L1032.4 501.0L1032.3 499.0L1032.3 496.9L1032.2 494.8L1032.2 492.8L1032.1 490.9L1032.0 489.1L1032.0 487.2L1031.9 485.4L1031.9 483.7L1031.8 482.3L1031.8 481.3L1030.5 480.1L1027.4 480.1ZM1042.2 483.5L1042.4 484.3L1042.6 485.4L1042.8 486.7L1043.1 488.2L1043.4 489.8L1043.6 491.5L1044.0 493.3L1044.4 495.3L1044.9 497.4L1045.2 499.4L1045.5 501.3L1045.6 503.0L1045.5 504.7L1045.3 506.4L1045.0 508.1L1044.6 509.9L1044.2 511.6L1043.7 513.2L1043.2 514.7L1042.5 516.4L1041.8 518.0L1041.1 519.5L1040.4 520.8L1040.0 521.8L1040.6 523.5L1043.3 524.8L1045.0 524.2L1045.5 523.3L1046.1 522.0L1046.9 520.4L1047.7 518.6L1048.4 516.7L1049.1 514.8L1049.6 513.0L1050.1 511.2L1050.5 509.2L1050.9 507.2L1051.1 505.1L1051.2 503.0L1051.1 500.7L1050.8 498.5L1050.4 496.3L1049.9 494.2L1049.5 492.2L1049.2 490.5L1048.9 488.9L1048.6 487.3L1048.3 485.8L1048.1 484.4L1047.9 483.3L1047.8 482.5L1046.3 481.5L1043.3 482.0Z" fill="#c2d9f0" stroke="#1c3347" stroke-width="2.6" stroke-linejoin="round"/><ellipse cx="1038.2" cy="424.7" rx="14.5" ry="11.1" fill="#a8d3f5" stroke="#1c3347" stroke-width="2.2"/><ellipse cx="1038.2" cy="531.0" rx="14.5" ry="11.1" fill="#a8d3f5" stroke="#1c3347" stroke-width="2.2"/>
<path d="M1067.5 444.0L1067.0 444.4L1066.2 445.1L1065.1 446.0L1064.0 447.2L1062.8 448.7L1061.9 450.4L1061.3 452.3L1060.8 454.3L1060.4 456.4L1060.2 458.5L1059.9 460.7L1059.8 462.9L1059.8 465.1L1059.8 467.4L1059.9 469.6L1060.1 471.9L1060.3 474.1L1060.4 476.2L1060.5 478.4L1060.7 480.7L1060.9 483.0L1061.1 485.1L1061.2 486.9L1061.3 488.2L1062.7 489.4L1065.7 489.2L1066.9 487.8L1066.8 486.5L1066.6 484.7L1066.5 482.6L1066.3 480.3L1066.1 478.0L1066.0 475.8L1065.8 473.7L1065.7 471.5L1065.5 469.3L1065.4 467.1L1065.4 465.1L1065.4 463.1L1065.5 461.2L1065.7 459.1L1066.0 457.2L1066.3 455.4L1066.7 453.8L1067.1 452.6L1067.6 451.7L1068.2 450.9L1069.0 450.1L1069.8 449.3L1070.7 448.6L1071.3 448.0L1071.4 446.2L1069.3 444.0ZM1076.2 446.8L1076.4 447.4L1076.6 448.2L1076.9 449.0L1077.1 450.0L1077.4 451.0L1077.5 452.3L1077.6 453.8L1077.7 455.6L1077.7 457.7L1077.7 459.8L1077.7 461.9L1077.7 464.0L1077.7 465.9L1077.6 467.9L1077.6 469.9L1077.5 471.8L1077.4 473.8L1077.3 475.9L1077.2 478.1L1077.1 480.5L1076.9 482.9L1076.8 485.1L1076.7 487.1L1076.6 488.4L1077.8 489.8L1080.9 490.0L1082.2 488.8L1082.3 487.4L1082.4 485.5L1082.5 483.2L1082.7 480.8L1082.8 478.4L1082.9 476.1L1083.0 474.1L1083.1 472.1L1083.2 470.1L1083.2 468.1L1083.3 466.0L1083.3 464.0L1083.3 461.9L1083.3 459.8L1083.3 457.6L1083.3 455.5L1083.2 453.5L1083.1 451.7L1082.9 450.1L1082.6 448.7L1082.3 447.5L1082.0 446.5L1081.7 445.8L1081.6 445.2L1080.0 444.3L1077.1 445.2ZM1059.9 494.8L1059.9 495.8L1060.0 497.2L1060.0 498.8L1060.1 500.7L1060.1 502.5L1060.2 504.4L1060.3 506.3L1060.3 508.3L1060.4 510.4L1060.4 512.5L1060.5 514.5L1060.6 516.4L1060.7 518.2L1060.8 519.9L1060.9 521.6L1061.0 523.3L1061.1 524.9L1061.3 526.7L1061.6 528.5L1061.9 530.5L1062.3 532.5L1062.6 534.2L1062.9 535.7L1063.2 536.8L1064.6 537.9L1067.7 537.3L1068.6 535.8L1068.4 534.7L1068.1 533.2L1067.8 531.4L1067.4 529.5L1067.1 527.6L1066.9 525.9L1066.7 524.4L1066.6 522.8L1066.5 521.3L1066.4 519.6L1066.3 517.9L1066.2 516.2L1066.1 514.3L1066.0 512.3L1066.0 510.2L1065.9 508.1L1065.9 506.1L1065.8 504.2L1065.7 502.4L1065.7 500.5L1065.6 498.7L1065.6 497.0L1065.5 495.6L1065.5 494.6L1064.2 493.4L1061.1 493.4ZM1075.9 496.8L1076.1 497.6L1076.3 498.7L1076.5 500.0L1076.8 501.5L1077.1 503.1L1077.3 504.8L1077.7 506.6L1078.1 508.6L1078.6 510.7L1078.9 512.7L1079.2 514.6L1079.3 516.3L1079.2 518.0L1079.0 519.7L1078.7 521.4L1078.3 523.2L1077.9 524.9L1077.4 526.5L1076.9 528.0L1076.2 529.7L1075.5 531.3L1074.8 532.8L1074.1 534.1L1073.7 535.1L1074.3 536.8L1077.0 538.1L1078.7 537.5L1079.2 536.6L1079.8 535.3L1080.6 533.7L1081.4 531.9L1082.1 530.0L1082.8 528.1L1083.3 526.3L1083.8 524.5L1084.2 522.5L1084.6 520.5L1084.8 518.4L1084.9 516.3L1084.8 514.0L1084.5 511.8L1084.1 509.6L1083.6 507.5L1083.2 505.5L1082.9 503.8L1082.6 502.2L1082.3 500.6L1082.0 499.1L1081.8 497.7L1081.6 496.6L1081.5 495.8L1080.0 494.8L1077.0 495.3Z" fill="#c2d9f0" stroke="#1c3347" stroke-width="2.6" stroke-linejoin="round"/><ellipse cx="1071.9" cy="438.0" rx="14.5" ry="11.1" fill="#a8d3f5" stroke="#1c3347" stroke-width="2.2"/><ellipse cx="1071.9" cy="544.3" rx="14.5" ry="11.1" fill="#a8d3f5" stroke="#1c3347" stroke-width="2.2"/>
<path d="M1100.9 456.8L1100.4 457.2L1099.6 457.9L1098.5 458.8L1097.4 460.0L1096.2 461.5L1095.3 463.2L1094.7 465.1L1094.2 467.1L1093.8 469.2L1093.6 471.3L1093.3 473.5L1093.2 475.7L1093.2 477.9L1093.2 480.2L1093.3 482.4L1093.5 484.7L1093.7 486.9L1093.8 489.0L1093.9 491.2L1094.1 493.5L1094.3 495.8L1094.5 497.9L1094.6 499.7L1094.7 501.0L1096.1 502.2L1099.1 502.0L1100.3 500.6L1100.2 499.3L1100.0 497.5L1099.9 495.4L1099.7 493.1L1099.5 490.8L1099.4 488.6L1099.2 486.5L1099.1 484.3L1098.9 482.1L1098.8 479.9L1098.8 477.9L1098.8 475.9L1098.9 474.0L1099.1 471.9L1099.4 470.0L1099.7 468.2L1100.1 466.6L1100.5 465.4L1101.0 464.5L1101.6 463.7L1102.4 462.9L1103.2 462.1L1104.1 461.4L1104.7 460.8L1104.8 459.0L1102.7 456.8ZM1109.6 459.6L1109.8 460.2L1110.0 461.0L1110.3 461.8L1110.5 462.8L1110.8 463.8L1110.9 465.1L1111.0 466.6L1111.1 468.4L1111.1 470.5L1111.1 472.6L1111.1 474.7L1111.1 476.8L1111.1 478.7L1111.0 480.7L1111.0 482.7L1110.9 484.6L1110.8 486.6L1110.7 488.7L1110.6 490.9L1110.5 493.3L1110.3 495.7L1110.2 497.9L1110.1 499.9L1110.0 501.2L1111.2 502.6L1114.3 502.8L1115.6 501.6L1115.7 500.2L1115.8 498.3L1115.9 496.0L1116.1 493.6L1116.2 491.2L1116.3 488.9L1116.4 486.9L1116.5 484.9L1116.6 482.9L1116.6 480.9L1116.7 478.8L1116.7 476.8L1116.7 474.7L1116.7 472.6L1116.7 470.4L1116.7 468.3L1116.6 466.3L1116.5 464.5L1116.3 462.9L1116.0 461.5L1115.7 460.3L1115.4 459.3L1115.1 458.6L1115.0 458.0L1113.4 457.1L1110.5 458.0ZM1093.3 507.6L1093.3 508.6L1093.4 510.0L1093.4 511.6L1093.5 513.5L1093.5 515.3L1093.6 517.2L1093.7 519.1L1093.7 521.1L1093.8 523.2L1093.8 525.3L1093.9 527.3L1094.0 529.2L1094.1 531.0L1094.2 532.7L1094.3 534.4L1094.4 536.1L1094.5 537.7L1094.7 539.5L1095.0 541.3L1095.3 543.3L1095.7 545.3L1096.0 547.0L1096.3 548.5L1096.6 549.6L1098.0 550.7L1101.1 550.1L1102.0 548.6L1101.8 547.5L1101.5 546.0L1101.2 544.2L1100.8 542.3L1100.5 540.4L1100.3 538.7L1100.1 537.2L1100.0 535.6L1099.9 534.1L1099.8 532.4L1099.7 530.7L1099.6 529.0L1099.5 527.1L1099.4 525.1L1099.4 523.0L1099.3 520.9L1099.3 518.9L1099.2 517.0L1099.1 515.2L1099.1 513.3L1099.0 511.5L1099.0 509.8L1098.9 508.4L1098.9 507.4L1097.6 506.2L1094.5 506.2ZM1109.3 509.6L1109.5 510.4L1109.7 511.5L1109.9 512.8L1110.2 514.3L1110.5 515.9L1110.7 517.6L1111.1 519.4L1111.5 521.4L1112.0 523.5L1112.3 525.5L1112.6 527.4L1112.7 529.1L1112.6 530.8L1112.4 532.5L1112.1 534.2L1111.7 536.0L1111.3 537.7L1110.8 539.3L1110.3 540.8L1109.6 542.5L1108.9 544.1L1108.2 545.6L1107.5 546.9L1107.1 547.9L1107.7 549.6L1110.4 550.9L1112.1 550.3L1112.6 549.4L1113.2 548.1L1114.0 546.5L1114.8 544.7L1115.5 542.8L1116.2 540.9L1116.7 539.1L1117.2 537.3L1117.6 535.3L1118.0 533.3L1118.2 531.2L1118.3 529.1L1118.2 526.8L1117.9 524.6L1117.5 522.4L1117.0 520.3L1116.6 518.3L1116.3 516.6L1116.0 515.0L1115.7 513.4L1115.4 511.9L1115.2 510.5L1115.0 509.4L1114.9 508.6L1113.4 507.6L1110.4 508.1Z" fill="#c2d9f0" stroke="#1c3347" stroke-width="2.6" stroke-linejoin="round"/><ellipse cx="1105.3" cy="450.8" rx="14.5" ry="11.1" fill="#a8d3f5" stroke="#1c3347" stroke-width="2.2"/><ellipse cx="1105.3" cy="557.1" rx="14.5" ry="11.1" fill="#a8d3f5" stroke="#1c3347" stroke-width="2.2"/>
<path d="M1134.5 473.3L1134.0 473.7L1133.2 474.4L1132.1 475.3L1131.0 476.5L1129.8 478.0L1128.9 479.7L1128.3 481.6L1127.8 483.6L1127.4 485.7L1127.2 487.8L1126.9 490.0L1126.8 492.2L1126.8 494.4L1126.8 496.7L1126.9 498.9L1127.1 501.2L1127.3 503.4L1127.4 505.5L1127.5 507.7L1127.7 510.0L1127.9 512.3L1128.1 514.4L1128.2 516.2L1128.3 517.5L1129.7 518.7L1132.7 518.5L1133.9 517.1L1133.8 515.8L1133.6 514.0L1133.5 511.9L1133.3 509.6L1133.1 507.3L1133.0 505.1L1132.8 503.0L1132.7 500.8L1132.5 498.6L1132.4 496.4L1132.4 494.4L1132.4 492.4L1132.5 490.5L1132.7 488.4L1133.0 486.5L1133.3 484.7L1133.7 483.1L1134.1 481.9L1134.6 481.0L1135.2 480.2L1136.0 479.4L1136.8 478.6L1137.7 477.9L1138.3 477.3L1138.4 475.5L1136.3 473.3ZM1143.2 476.1L1143.4 476.7L1143.6 477.5L1143.9 478.3L1144.1 479.3L1144.4 480.3L1144.5 481.6L1144.6 483.1L1144.7 484.9L1144.7 487.0L1144.7 489.1L1144.7 491.2L1144.7 493.3L1144.7 495.2L1144.6 497.2L1144.6 499.2L1144.5 501.1L1144.4 503.1L1144.3 505.2L1144.2 507.4L1144.1 509.8L1143.9 512.2L1143.8 514.4L1143.7 516.4L1143.6 517.7L1144.8 519.1L1147.9 519.3L1149.2 518.1L1149.3 516.7L1149.4 514.8L1149.5 512.5L1149.7 510.1L1149.8 507.7L1149.9 505.4L1150.0 503.4L1150.1 501.4L1150.2 499.4L1150.2 497.4L1150.3 495.3L1150.3 493.3L1150.3 491.2L1150.3 489.1L1150.3 486.9L1150.3 484.8L1150.2 482.8L1150.1 481.0L1149.9 479.4L1149.6 478.0L1149.3 476.8L1149.0 475.8L1148.7 475.1L1148.6 474.5L1147.0 473.6L1144.1 474.5ZM1126.9 524.1L1126.9 525.1L1127.0 526.5L1127.0 528.1L1127.1 530.0L1127.1 531.8L1127.2 533.7L1127.3 535.6L1127.3 537.6L1127.4 539.7L1127.4 541.8L1127.5 543.8L1127.6 545.7L1127.7 547.5L1127.8 549.2L1127.9 550.9L1128.0 552.6L1128.1 554.2L1128.3 556.0L1128.6 557.8L1128.9 559.8L1129.3 561.8L1129.6 563.5L1129.9 565.0L1130.2 566.1L1131.6 567.2L1134.7 566.6L1135.6 565.1L1135.4 564.0L1135.1 562.5L1134.8 560.7L1134.4 558.8L1134.1 556.9L1133.9 555.2L1133.7 553.7L1133.6 552.1L1133.5 550.6L1133.4 548.9L1133.3 547.2L1133.2 545.5L1133.1 543.6L1133.0 541.6L1133.0 539.5L1132.9 537.4L1132.9 535.4L1132.8 533.5L1132.7 531.7L1132.7 529.8L1132.6 528.0L1132.6 526.3L1132.5 524.9L1132.5 523.9L1131.2 522.7L1128.1 522.7ZM1142.9 526.1L1143.1 526.9L1143.3 528.0L1143.5 529.3L1143.8 530.8L1144.1 532.4L1144.3 534.1L1144.7 535.9L1145.1 537.9L1145.6 540.0L1145.9 542.0L1146.2 543.9L1146.3 545.6L1146.2 547.3L1146.0 549.0L1145.7 550.7L1145.3 552.5L1144.9 554.2L1144.4 555.8L1143.9 557.3L1143.2 559.0L1142.5 560.6L1141.8 562.1L1141.1 563.4L1140.7 564.4L1141.3 566.1L1144.0 567.4L1145.7 566.8L1146.2 565.9L1146.8 564.6L1147.6 563.0L1148.4 561.2L1149.1 559.3L1149.8 557.4L1150.3 555.6L1150.8 553.8L1151.2 551.8L1151.6 549.8L1151.8 547.7L1151.9 545.6L1151.8 543.3L1151.5 541.1L1151.1 538.9L1150.6 536.8L1150.2 534.8L1149.9 533.1L1149.6 531.5L1149.3 529.9L1149.0 528.4L1148.8 527.0L1148.6 525.9L1148.5 525.1L1147.0 524.1L1144.0 524.6Z" fill="#c2d9f0" stroke="#1c3347" stroke-width="2.6" stroke-linejoin="round"/><ellipse cx="1138.9" cy="467.3" rx="14.5" ry="11.1" fill="#a8d3f5" stroke="#1c3347" stroke-width="2.2"/><ellipse cx="1138.9" cy="573.6" rx="14.5" ry="11.1" fill="#a8d3f5" stroke="#1c3347" stroke-width="2.2"/>
</g>
<path d="M775.5 356.5L775.3 357.0L775.0 357.6L774.7 358.4L774.3 359.2L774.0 360.1L773.6 361.0L773.3 362.0L773.0 363.0L772.8 364.0L772.5 365.1L772.3 366.2L772.0 367.3L771.9 368.5L771.8 369.7L771.7 370.9L771.8 372.0L772.0 373.1L772.2 374.3L772.6 375.4L773.0 376.6L773.5 377.7L774.0 378.8L774.5 379.9L775.0 381.0L775.6 382.1L776.2 383.1L776.9 384.1L777.6 385.1L778.3 386.1L778.9 387.1L779.5 388.1L780.0 389.0L780.4 389.9L780.8 390.8L781.1 391.6L781.4 392.4L781.6 393.3L781.8 394.1L781.9 395.0L782.0 396.0L782.0 397.0L781.9 398.1L781.8 399.1L781.7 400.2L781.4 401.4L781.2 402.6L780.9 403.8L780.5 405.0L780.1 406.3L779.5 407.6L778.9 409.0L778.3 410.4L777.7 411.9L777.0 413.3L776.5 414.7L776.0 416.0L775.6 417.3L775.2 418.6L774.8 419.9L774.5 421.1L774.2 422.4L774.0 423.6L773.8 424.8L773.8 426.0L773.8 427.2L774.0 428.3L774.2 429.4L774.4 430.6L774.7 431.7L775.1 432.8L775.5 433.9L776.0 435.0L776.5 436.1L777.2 437.3L777.9 438.4L778.7 439.6L779.4 440.7L780.2 441.8L780.9 442.9L781.5 444.0L782.1 445.0L782.6 446.0L783.2 447.0L783.7 447.9L784.1 448.9L784.5 449.9L784.8 450.9L785.0 452.0L785.1 453.1L785.1 454.3L785.1 455.6L785.0 456.8L784.8 458.1L784.6 459.4L784.3 460.7L784.0 462.0L783.6 463.3L783.1 464.7L782.5 466.1L781.8 467.6L781.2 469.0L780.6 470.4L780.0 471.7L779.5 473.0L779.1 474.2L778.7 475.4L778.3 476.5L778.0 477.6L777.7 478.6L777.4 479.7L777.3 480.8L777.2 482.0L777.2 483.2L777.3 484.4L777.5 485.6L777.7 486.9L778.0 488.1L778.3 489.4L778.6 490.7L779.0 492.0L779.4 493.3L779.9 494.7L780.4 496.0L781.0 497.4L781.5 498.8L782.1 500.2L782.6 501.6L783.0 503.0L783.4 504.5L783.8 506.2L784.1 508.0L784.5 509.7L784.7 511.3L785.0 512.8L785.2 514.1L785.4 515.0" fill="none" stroke="#14286b" stroke-width="7.5" stroke-linecap="round" stroke-linejoin="round"/>
<g id="sugars">
<line x1="379.3" y1="106" x2="379.3" y2="346" stroke="#224b78" stroke-width="2.4"/>
<line x1="407" y1="353" x2="439" y2="326.5" stroke="#224b78" stroke-width="2.4"/>
<line x1="438" y1="326" x2="437" y2="264" stroke="#224b78" stroke-width="2.4"/>
<line x1="437" y1="264" x2="486" y2="224" stroke="#224b78" stroke-width="2.4"/>
<line x1="439" y1="326.5" x2="488" y2="285" stroke="#224b78" stroke-width="2.4"/>
<line x1="488" y1="285" x2="535.3" y2="243.3" stroke="#224b78" stroke-width="2.4"/>
<polygon points="379.3,88.6 395.7,96.0 395.7,116.6 379.3,124.0 362.9,116.6 362.9,96.0" fill="#4a8fd6" stroke="#224b78" stroke-width="2.3" stroke-linejoin="round"/>
<polygon points="379.3,152.6 395.7,160.0 395.7,180.6 379.3,188.0 362.9,180.6 362.9,160.0" fill="#4a8fd6" stroke="#224b78" stroke-width="2.3" stroke-linejoin="round"/>
<polygon points="379.3,216.8 395.7,224.2 395.7,244.8 379.3,252.2 362.9,244.8 362.9,224.2" fill="#4a8fd6" stroke="#224b78" stroke-width="2.3" stroke-linejoin="round"/>
<polygon points="379.3,280.9 395.7,288.3 395.7,308.9 379.3,316.3 362.9,308.9 362.9,288.3" fill="#4a8fd6" stroke="#224b78" stroke-width="2.3" stroke-linejoin="round"/>
<polygon points="436.5,309.0 453.8,314.0 456.7,334.4 441.5,344.0 424.2,339.0 421.3,318.6" fill="#4a8fd6" stroke="#224b78" stroke-width="2.3" stroke-linejoin="round"/>
<polygon points="437.0,246.3 453.4,253.7 453.4,274.3 437.0,281.7 420.6,274.3 420.6,253.7" fill="#4a8fd6" stroke="#224b78" stroke-width="2.3" stroke-linejoin="round"/>
<polygon points="482.3,206.7 499.9,210.5 504.2,230.7 489.7,241.3 472.1,237.5 467.8,217.3" fill="#4a8fd6" stroke="#224b78" stroke-width="2.3" stroke-linejoin="round"/>
<polygon points="484.9,267.6 502.4,272.0 505.9,292.3 491.1,302.4 473.6,298.0 470.1,277.7" fill="#4a8fd6" stroke="#224b78" stroke-width="2.3" stroke-linejoin="round"/>
<polygon points="532.2,225.9 549.7,230.3 553.2,250.6 538.4,260.7 520.9,256.3 517.4,236.0" fill="#4a8fd6" stroke="#224b78" stroke-width="2.3" stroke-linejoin="round"/>
<line x1="776.3" y1="190" x2="776.3" y2="358" stroke="#224b78" stroke-width="2.4"/>
<line x1="724" y1="216" x2="776.3" y2="253.7" stroke="#224b78" stroke-width="2.4"/>
<polygon points="776.3,172.6 792.7,180.0 792.7,200.6 776.3,208.0 759.9,200.6 759.9,180.0" fill="#4a8fd6" stroke="#224b78" stroke-width="2.3" stroke-linejoin="round"/>
<polygon points="776.3,236.3 792.7,243.7 792.7,264.3 776.3,271.7 759.9,264.3 759.9,243.7" fill="#4a8fd6" stroke="#224b78" stroke-width="2.3" stroke-linejoin="round"/>
<polygon points="776.3,299.3 792.7,306.7 792.7,327.3 776.3,334.7 759.9,327.3 759.9,306.7" fill="#4a8fd6" stroke="#224b78" stroke-width="2.3" stroke-linejoin="round"/>
<polygon points="726.3,199.0 741.6,208.4 739.1,228.8 721.9,234.2 706.6,224.8 709.1,204.4" fill="#4a8fd6" stroke="#224b78" stroke-width="2.3" stroke-linejoin="round"/>
</g>
<ellipse cx="379.3" cy="434" rx="53" ry="90.4" fill="url(#pg)" stroke="#27521a" stroke-width="2.6"/>
<path d="M377.5 7.5L398 27.5H389V49H367.5V27.5H356.5Z" fill="#fff2cc" stroke="#ffd24a" stroke-width="2" stroke-linejoin="miter"/>
<path d="M386 73L397.3 64.6L580 229L572 239.6M490.5 145.5L506 129" fill="none" stroke="#6b6b6b" stroke-width="2.2" stroke-linejoin="miter"/>
<path d="M684.8 206.7L678.9 192.7L777.7 141L784.7 153.7M727.3 166.5L717.1 145.6" fill="none" stroke="#6b6b6b" stroke-width="2.2" stroke-linejoin="miter"/>
<rect x="-10" y="104.5" width="347" height="231.5" fill="#fff" stroke="#2f70a6" stroke-width="2.3"/>
<rect x="826.6" y="175.2" width="312.2" height="160.6" fill="#fff" stroke="#2f70a6" stroke-width="2.3"/>
<text x="10.4" y="139.4" font-size="27" class="b" textLength="171" lengthAdjust="spacingAndGlyphs">CELL-SURFACE</text>
<text x="10.4" y="174.7" font-size="27" class="b" textLength="198.5" lengthAdjust="spacingAndGlyphs">GLYCOPROTEINS</text>
<text x="43" y="209.8" font-size="26.2" class="i" textLength="273" lengthAdjust="spacingAndGlyphs">binding to extracellular</text>
<text x="43" y="245.2" font-size="26.2" class="i" textLength="180" lengthAdjust="spacingAndGlyphs">matrix proteins</text>
<text x="43" y="280.6" font-size="26.2" class="i" textLength="273.4" lengthAdjust="spacingAndGlyphs">cell-cell interaction and</text>
<text x="43" y="315.4" font-size="26.2" class="i" textLength="106" lengthAdjust="spacingAndGlyphs">adhesion</text>
<circle cx="14" cy="201" r="3.6" fill="#111"/><circle cx="14" cy="271.4" r="3.6" fill="#111"/>
<text x="844.8" y="210.6" font-size="27" class="b" textLength="155" lengthAdjust="spacingAndGlyphs">GLYCOLIPIDS</text>
<text x="878.4" y="245.8" font-size="26.2" class="i" textLength="235.6" lengthAdjust="spacingAndGlyphs">membrane integrity</text>
<text x="878.4" y="281.3" font-size="26.2" class="i" textLength="222.8" lengthAdjust="spacingAndGlyphs">cell-cell interaction</text>
<text x="878.4" y="316.3" font-size="26.2" class="i" textLength="225.6" lengthAdjust="spacingAndGlyphs">signal transduction</text>
<circle cx="851" cy="237.8" r="3.6" fill="#111"/><circle cx="851" cy="272.8" r="3.6" fill="#111"/><circle cx="851" cy="308.6" r="3.6" fill="#111"/>
<text x="526" y="117" font-size="24.8" class="b" textLength="188" lengthAdjust="spacingAndGlyphs">oligosaccharide</text>
<text x="582" y="152" font-size="24.8" class="b" textLength="76" lengthAdjust="spacingAndGlyphs">chains</text>
</svg></body></html>
